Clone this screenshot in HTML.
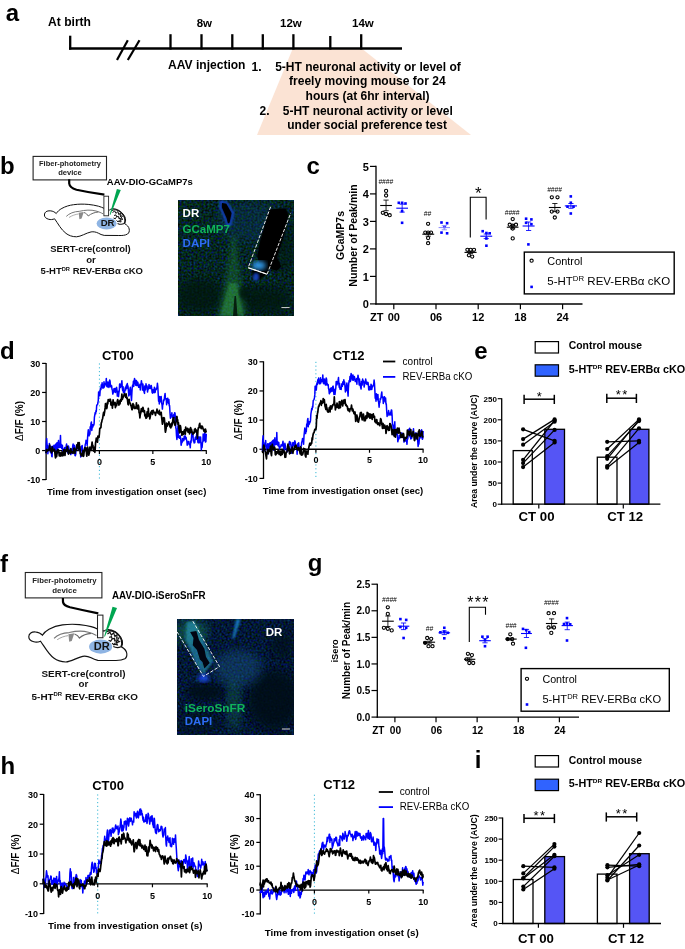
<!DOCTYPE html>
<html><head><meta charset="utf-8"><title>Figure</title>
<style>html,body{margin:0;padding:0;background:#fff}svg{display:block;will-change:transform}text{font-family:"Liberation Sans",sans-serif}</style></head><body>
<svg width="685" height="949" viewBox="0 0 685 949">
<rect width="685" height="949" fill="#fff"/>
<defs>
<filter id="noiseG" x="0" y="0" width="100%" height="100%" color-interpolation-filters="sRGB">
<feTurbulence type="fractalNoise" baseFrequency="0.5" numOctaves="2" seed="3" result="n"/>
<feColorMatrix in="n" type="matrix" values="0 0 0 0 0.02  0 0.45 0 0 -0.08  0 0 1.0 0 -0.36  0 0 0 0 1"/><feGaussianBlur stdDeviation="0.45"/>
</filter>
<filter id="noiseB" x="0" y="0" width="100%" height="100%" color-interpolation-filters="sRGB">
<feTurbulence type="fractalNoise" baseFrequency="0.5" numOctaves="2" seed="8" result="n"/>
<feColorMatrix in="n" type="matrix" values="0 0 0 0 0.01  0 0.4 0 0 -0.105  0 0 0.8 0 -0.19  0 0 0 0 1"/><feGaussianBlur stdDeviation="0.45"/>
</filter>
<filter id="bl1"><feGaussianBlur stdDeviation="1.2"/></filter>
<filter id="bl2"><feGaussianBlur stdDeviation="2.5"/></filter>
<filter id="bl4"><feGaussianBlur stdDeviation="5"/></filter>
<clipPath id="clipB"><rect x="178" y="200" width="116" height="116"/></clipPath>
<clipPath id="clipF"><rect x="177" y="619" width="117" height="116"/></clipPath>
</defs>
<polygon points="293,48 361,48 471,135 257,135" fill="#fbe3d4"/>
<line x1="69" y1="48.5" x2="402" y2="48.5" stroke="#000" stroke-width="2.3" />
<line x1="70.2" y1="35.7" x2="70.2" y2="49.6" stroke="#000" stroke-width="2.3" />
<line x1="170.5" y1="34.2" x2="170.5" y2="49.6" stroke="#000" stroke-width="2.3" />
<line x1="201.5" y1="34.2" x2="201.5" y2="49.6" stroke="#000" stroke-width="2.3" />
<line x1="232.3" y1="34.2" x2="232.3" y2="49.6" stroke="#000" stroke-width="2.3" />
<line x1="262.8" y1="34.2" x2="262.8" y2="49.6" stroke="#000" stroke-width="2.3" />
<line x1="293.4" y1="34.2" x2="293.4" y2="49.6" stroke="#000" stroke-width="2.3" />
<line x1="330.3" y1="36" x2="330.3" y2="49.6" stroke="#000" stroke-width="2.3" />
<line x1="361.2" y1="34.2" x2="361.2" y2="49.6" stroke="#000" stroke-width="2.3" />
<line x1="117" y1="60" x2="127.8" y2="40.2" stroke="#000" stroke-width="2.2" />
<line x1="127.8" y1="60" x2="139.5" y2="40.2" stroke="#000" stroke-width="2.2" />
<text x="48" y="26.3" font-size="12" font-weight="bold" text-anchor="start" fill="#000" textLength="43" lengthAdjust="spacingAndGlyphs" >At birth</text>
<text x="196.7" y="27" font-size="11.5" font-weight="bold" text-anchor="start" fill="#000" >8w</text>
<text x="280" y="27" font-size="11.5" font-weight="bold" text-anchor="start" fill="#000" >12w</text>
<text x="352" y="27" font-size="11.5" font-weight="bold" text-anchor="start" fill="#000" >14w</text>
<text x="168" y="68.6" font-size="12" font-weight="bold" text-anchor="start" fill="#000" textLength="77.5" lengthAdjust="spacingAndGlyphs" >AAV injection</text>
<text x="251.5" y="71" font-size="12" font-weight="bold" text-anchor="start" fill="#000" >1.</text>
<text x="275.2" y="70.8" font-size="12" font-weight="bold" text-anchor="start" fill="#000" textLength="185.6" lengthAdjust="spacingAndGlyphs" >5-HT neuronal activity or level of</text>
<text x="289" y="85.4" font-size="12" font-weight="bold" text-anchor="start" fill="#000" textLength="156.6" lengthAdjust="spacingAndGlyphs" >freely moving mouse for 24</text>
<text x="305.6" y="99.6" font-size="12" font-weight="bold" text-anchor="start" fill="#000" textLength="124" lengthAdjust="spacingAndGlyphs" >hours (at 6hr interval)</text>
<text x="259.5" y="114.6" font-size="12" font-weight="bold" text-anchor="start" fill="#000" >2.</text>
<text x="282.8" y="114.6" font-size="12" font-weight="bold" text-anchor="start" fill="#000" textLength="170" lengthAdjust="spacingAndGlyphs" >5-HT neuronal activity or level</text>
<text x="287.3" y="128.7" font-size="12" font-weight="bold" text-anchor="start" fill="#000" textLength="159.6" lengthAdjust="spacingAndGlyphs" >under social preference test</text>
<rect x="33.1" y="156.4" width="73.4" height="23.5" fill="#fff" stroke="#222" stroke-width="1.1"/>
<text x="70" y="166.3" font-size="7.6" font-weight="bold" text-anchor="middle" fill="#222" textLength="62" lengthAdjust="spacingAndGlyphs" >Fiber-photometry</text>
<text x="70" y="174.8" font-size="7.6" font-weight="bold" text-anchor="middle" fill="#222" >device</text>
<path d="M69.2,179.3 L69.2,183.5 Q69.6,187.6 76.5,189.8 Q90,192.8 104.4,194.6" fill="none" stroke="#000" stroke-width="2.2"/>
<g transform="translate(0,0)">
<path d="M44.4,215 C44.4,211.8 47,210.6 50.2,210.8 C53,211 55,212.2 56.2,213.6 C57.5,211.5 59.5,209.7 61.9,208.4 C65.5,206.4 69.5,205.2 73.6,204.7 C78.5,204 83.5,204 88.2,204.4 C92,204.8 95.5,205.4 98.4,206.2 C100.5,206.8 102.5,207.6 104.2,208.4 L109.5,210 C111,208.6 113.5,208.4 116,209.2 C118.5,210 120.5,211.2 121.8,212.7 C123.8,214.6 125,216.5 125.4,218.6 C125.8,220.5 125.5,222.3 124.7,223.7 C127,225 128.8,226.8 129.2,229 C129.6,231.3 129,233 127.6,234 C125,235.5 122,235.6 118.8,235.5 L104.2,235.4 C102,235 100,234.2 98.4,233.2 C96,232 93.5,231.5 91.1,231.9 C86,233 81,236.6 76.5,236.8 C72,236.8 68.5,235.3 66,233.4 C61,229.6 58,223.5 54.6,218.8 C52.5,219.6 50.5,219.8 48.8,219.3 C46,218.6 44.4,217 44.4,215 Z" fill="#fff" stroke="#111" stroke-width="1"/>
<path d="M66.3,216.4 C69,213.5 74,211.5 79.4,211.3 C85,210 91,209.6 96,211 C99,211.8 101.5,213 103,213.8" fill="none" stroke="#777" stroke-width="1"/>
<path d="M78.7,212.7 L83.8,212 L81.6,218.6 L79.4,219.3 Z" fill="#8a8a8a"/>
<path d="M84,212.5 C86,213.2 87.5,214.5 88.2,216 C91,213.6 95,212.2 98.4,212" fill="none" stroke="#666" stroke-width="1"/>
<path d="M69,217.5 C72,215.5 75.5,214.3 78.5,214" fill="none" stroke="#999" stroke-width="0.8"/>
<ellipse cx="106.6" cy="223.5" rx="10" ry="6.1" fill="#8eb4e3"/>
<path d="M111.5,210.8 C113.5,209.4 116,209.6 118,210.4 C121,211.8 123.5,214.5 124.6,218 C125.2,220.5 124.8,222.5 124.2,223.6 C122,224.6 119.5,224.4 117.6,223.4" fill="none" stroke="#111" stroke-width="1.1"/>
<path d="M112.5,212.5 l2.2,-1.5 l1.2,2.4 l2,-1.8 l0.8,2.6 l2.2,-1 l-0.4,2.6 l2,0.2 l-1.4,2 l1.8,1.2 l-2.4,1 l0.6,1.8 l-2.6,-0.6 M114,215.5 l2,-0.6 l0.6,2 l2,-0.6 l0.2,2.2 l2,0 l-1,2 M113.5,218 l1.8,0.8 l1,-1.6 M116.5,220.5 l1.6,1.4 l1.2,-1.6 M118.5,213.6 l1,1.6 M121,216 l-1.2,1.4" fill="none" stroke="#111" stroke-width="1"/>
<rect x="103.9" y="196.2" width="4.7" height="19.6" fill="#fff" stroke="#222" stroke-width="0.9"/>
<polygon points="116.9,189 120.8,190.1 110.3,215 109.7,214.6" fill="#00a651"/>
<text x="107.6" y="226" font-size="9.6" font-weight="bold" text-anchor="middle" fill="#111" >DR</text>
</g>
<text x="106.8" y="184.6" font-size="9.5" font-weight="bold" text-anchor="start" fill="#000" textLength="86" lengthAdjust="spacingAndGlyphs" >AAV-DIO-GCaMP7s</text>
<text x="90.5" y="251.8" font-size="9.6" font-weight="bold" text-anchor="middle" fill="#111" textLength="80.5" lengthAdjust="spacingAndGlyphs" >SERT-cre(control)</text>
<text x="91" y="262.6" font-size="9.6" font-weight="bold" text-anchor="middle" fill="#111" >or</text>
<text x="40.6" y="274.2" font-size="9.6" font-weight="bold" fill="#111" textLength="102.4" lengthAdjust="spacingAndGlyphs">5-HT<tspan font-size="5.76" dy="-3.17">DR</tspan><tspan dy="3.17"> REV-ERBα cKO</tspan></text>
<g clip-path="url(#clipB)">
<rect x="178" y="200" width="116" height="116" fill="#06231a"/>
<rect x="178" y="200" width="116" height="116" filter="url(#noiseG)"/>
<ellipse cx="200" cy="296" rx="24" ry="18" fill="#03140e" opacity="0.75" filter="url(#bl4)"/>
<ellipse cx="264" cy="300" rx="28" ry="14" fill="#03140e" opacity="0.75" filter="url(#bl4)"/>
<ellipse cx="285" cy="245" rx="10" ry="30" fill="#03140e" opacity="0.5" filter="url(#bl4)"/>
<path d="M231,235 C230,260 224,285 217,316 L248,316 C242,290 238,262 236,235 Z" fill="#2a9a45" opacity="0.3" filter="url(#bl2)"/>
<path d="M229,283 C226,295 223,305 220,316 L244,316 C241,304 239,294 237,283 Z" fill="#40b850" opacity="0.36" filter="url(#bl1)"/>
<path d="M234.5,296 L233,316 L237.5,316 L236,296 Z" fill="#021008" opacity="0.85"/>
<ellipse cx="244" cy="293" rx="5" ry="6" fill="#03140e" opacity="0.7" filter="url(#bl1)"/>
<ellipse cx="252" cy="222" rx="36" ry="20" fill="#0c3c70" opacity="0.3" filter="url(#bl4)"/>
<path d="M220.5,201.5 L226.8,202.5 L233.2,212.9 L230.6,224.3 L227.7,226.3 L225.6,219 L220.2,207.6 Z" fill="#000" stroke="#1a4fe0" stroke-width="1.8" filter="url(#bl1)"/>
<path d="M222,203 L226.3,203.8 L231.5,213 L229.6,222.5 L228,223.5 L226.6,218 L222,207.5 Z" fill="#000"/>
<polygon points="269.7,209.4 285.5,208.5 288.1,214.6 284.6,233 276.7,257.6 281.1,266.3 276.7,270.7 268.9,268.1 266.2,274.2 257.5,280.3 253.1,275.1 252.2,270.7 260.1,266.3 257.5,255.8 260.1,241.8 265.3,224.3" fill="#000" filter="url(#bl1)"/>
<polygon points="269.7,209.4 285.5,208.5 288.1,214.6 284.6,233 276.7,257.6 281.1,266.3 276.7,270.7 268.9,268.1 266.2,274.2 257.5,280.3 253.1,275.1 252.2,270.7 260.1,266.3 257.5,255.8 260.1,241.8 265.3,224.3" fill="#000"/>
<ellipse cx="259" cy="265.5" rx="7" ry="4.5" fill="#35a8ff" opacity="0.9" filter="url(#bl2)"/>
<ellipse cx="256" cy="277" rx="3" ry="4" fill="#1a50e0" opacity="0.8" filter="url(#bl1)"/>
<polyline points="270.6,206.8 248.2,267.7 267.1,274.2 290.8,212.9" fill="none" stroke="#fff" stroke-width="0.9" stroke-dasharray="3.4,1.6"/>
<line x1="248.2" y1="267.7" x2="267.1" y2="274.2" stroke="#fff" stroke-width="1.1" />
<line x1="281.4" y1="307.6" x2="289.6" y2="307.6" stroke="#eee" stroke-width="0.9" />
</g>
<text x="182.6" y="217.3" font-size="11.5" font-weight="bold" text-anchor="start" fill="#fff" >DR</text>
<text x="182.6" y="233" font-size="11.5" font-weight="bold" text-anchor="start" fill="#10b45a" >GCaMP7</text>
<text x="182.6" y="247.3" font-size="11.5" font-weight="bold" text-anchor="start" fill="#2d6df5" >DAPI</text>
<line x1="376" y1="165.8" x2="376" y2="304.5" stroke="#000" stroke-width="1.3" />
<line x1="375.4" y1="304" x2="582.5" y2="304" stroke="#000" stroke-width="1.3" />
<line x1="370" y1="303.9" x2="376" y2="303.9" stroke="#000" stroke-width="1.2" />
<text x="368.8" y="308.29999999999995" font-size="11" font-weight="bold" text-anchor="end" fill="#000" >0</text>
<line x1="370" y1="276.4" x2="376" y2="276.4" stroke="#000" stroke-width="1.2" />
<text x="368.8" y="280.79999999999995" font-size="11" font-weight="bold" text-anchor="end" fill="#000" >1</text>
<line x1="370" y1="248.89999999999998" x2="376" y2="248.89999999999998" stroke="#000" stroke-width="1.2" />
<text x="368.8" y="253.29999999999998" font-size="11" font-weight="bold" text-anchor="end" fill="#000" >2</text>
<line x1="370" y1="221.39999999999998" x2="376" y2="221.39999999999998" stroke="#000" stroke-width="1.2" />
<text x="368.8" y="225.79999999999998" font-size="11" font-weight="bold" text-anchor="end" fill="#000" >3</text>
<line x1="370" y1="193.89999999999998" x2="376" y2="193.89999999999998" stroke="#000" stroke-width="1.2" />
<text x="368.8" y="198.29999999999998" font-size="11" font-weight="bold" text-anchor="end" fill="#000" >4</text>
<line x1="370" y1="166.39999999999998" x2="376" y2="166.39999999999998" stroke="#000" stroke-width="1.2" />
<text x="368.8" y="170.79999999999998" font-size="11" font-weight="bold" text-anchor="end" fill="#000" >5</text>
<line x1="393.8" y1="304" x2="393.8" y2="309.3" stroke="#000" stroke-width="1.2" />
<text x="393.8" y="320.9" font-size="11" font-weight="bold" text-anchor="middle" fill="#000" >00</text>
<line x1="436.0" y1="304" x2="436.0" y2="309.3" stroke="#000" stroke-width="1.2" />
<text x="436.0" y="320.9" font-size="11" font-weight="bold" text-anchor="middle" fill="#000" >06</text>
<line x1="478.20000000000005" y1="304" x2="478.20000000000005" y2="309.3" stroke="#000" stroke-width="1.2" />
<text x="478.20000000000005" y="320.9" font-size="11" font-weight="bold" text-anchor="middle" fill="#000" >12</text>
<line x1="520.4" y1="304" x2="520.4" y2="309.3" stroke="#000" stroke-width="1.2" />
<text x="520.4" y="320.9" font-size="11" font-weight="bold" text-anchor="middle" fill="#000" >18</text>
<line x1="562.6" y1="304" x2="562.6" y2="309.3" stroke="#000" stroke-width="1.2" />
<text x="562.6" y="320.9" font-size="11" font-weight="bold" text-anchor="middle" fill="#000" >24</text>
<text x="370" y="320.9" font-size="11" font-weight="bold" text-anchor="start" fill="#000" >ZT</text>
<text transform="translate(344,235.5) rotate(-90)" font-size="10.5" font-weight="bold" text-anchor="middle">GCaMP7s</text>
<text transform="translate(356.6,235.5) rotate(-90)" font-size="10.5" font-weight="bold" text-anchor="middle" textLength="102.5" lengthAdjust="spacingAndGlyphs">Number of Peak/min</text>
<circle cx="386.1" cy="190.9" r="1.6" fill="none" stroke="#000" stroke-width="1.1"/>
<circle cx="386.1" cy="195.5" r="1.6" fill="none" stroke="#000" stroke-width="1.1"/>
<circle cx="382.8" cy="212.8" r="1.6" fill="none" stroke="#000" stroke-width="1.1"/>
<circle cx="386.1" cy="214" r="1.6" fill="none" stroke="#000" stroke-width="1.1"/>
<circle cx="389.7" cy="215.2" r="1.6" fill="none" stroke="#000" stroke-width="1.1"/>
<line x1="380.2" y1="205.5" x2="391.9" y2="205.5" stroke="#000" stroke-width="1.1" />
<line x1="386.04999999999995" y1="200.1" x2="386.04999999999995" y2="210.7" stroke="#000" stroke-width="0.85" />
<line x1="383.44999999999993" y1="200.1" x2="388.65" y2="200.1" stroke="#000" stroke-width="0.85" />
<line x1="383.44999999999993" y1="210.7" x2="388.65" y2="210.7" stroke="#000" stroke-width="0.85" />
<text x="385.8" y="184" font-size="6.6" font-weight="normal" text-anchor="middle" fill="#000" font-style="italic">####</text>
<rect x="397.5" y="201.5" width="2.6" height="2.6" fill="#0000ff"/>
<rect x="400.8" y="201.5" width="2.6" height="2.6" fill="#0000ff"/>
<rect x="404.2" y="202.2" width="2.6" height="2.6" fill="#0000ff"/>
<rect x="400.8" y="209.79999999999998" width="2.6" height="2.6" fill="#0000ff"/>
<rect x="400.8" y="221.5" width="2.6" height="2.6" fill="#0000ff"/>
<line x1="396.3" y1="208.2" x2="408" y2="208.2" stroke="#0000ff" stroke-width="1.1" />
<line x1="402.15" y1="204.2" x2="402.15" y2="212.1" stroke="#0000ff" stroke-width="0.85" />
<line x1="399.54999999999995" y1="204.2" x2="404.75" y2="204.2" stroke="#0000ff" stroke-width="0.85" />
<line x1="399.54999999999995" y1="212.1" x2="404.75" y2="212.1" stroke="#0000ff" stroke-width="0.85" />
<circle cx="428.1" cy="223.8" r="1.6" fill="none" stroke="#000" stroke-width="1.1"/>
<circle cx="425.3" cy="232.6" r="1.6" fill="none" stroke="#000" stroke-width="1.1"/>
<circle cx="428.1" cy="232.6" r="1.6" fill="none" stroke="#000" stroke-width="1.1"/>
<circle cx="431" cy="232.6" r="1.6" fill="none" stroke="#000" stroke-width="1.1"/>
<circle cx="428.1" cy="238.1" r="1.6" fill="none" stroke="#000" stroke-width="1.1"/>
<circle cx="428.1" cy="243.2" r="1.6" fill="none" stroke="#000" stroke-width="1.1"/>
<line x1="422.3" y1="234.2" x2="434.2" y2="234.2" stroke="#000" stroke-width="1.1" />
<line x1="428.25" y1="232.3" x2="428.25" y2="236.2" stroke="#000" stroke-width="0.85" />
<line x1="425.65" y1="232.3" x2="430.85" y2="232.3" stroke="#000" stroke-width="0.85" />
<line x1="425.65" y1="236.2" x2="430.85" y2="236.2" stroke="#000" stroke-width="0.85" />
<text x="427.5" y="216.2" font-size="6.6" font-weight="normal" text-anchor="middle" fill="#000" font-style="italic">##</text>
<rect x="440.2" y="221.2" width="2.6" height="2.6" fill="#0000ff"/>
<rect x="445.8" y="221.89999999999998" width="2.6" height="2.6" fill="#0000ff"/>
<rect x="443.2" y="225.6" width="2.6" height="2.6" fill="#0000ff"/>
<rect x="440.2" y="231.29999999999998" width="2.6" height="2.6" fill="#0000ff"/>
<rect x="445.8" y="232.0" width="2.6" height="2.6" fill="#0000ff"/>
<line x1="438.6" y1="227.6" x2="450" y2="227.6" stroke="#7a7aff" stroke-width="0.9" />
<line x1="444.3" y1="225.7" x2="444.3" y2="229.8" stroke="#7a7aff" stroke-width="0.85" />
<line x1="441.7" y1="225.7" x2="446.90000000000003" y2="225.7" stroke="#7a7aff" stroke-width="0.85" />
<line x1="441.7" y1="229.8" x2="446.90000000000003" y2="229.8" stroke="#7a7aff" stroke-width="0.85" />
<circle cx="467.4" cy="249.8" r="1.6" fill="none" stroke="#000" stroke-width="1.1"/>
<circle cx="470.6" cy="249.8" r="1.6" fill="none" stroke="#000" stroke-width="1.1"/>
<circle cx="474" cy="249.8" r="1.6" fill="none" stroke="#000" stroke-width="1.1"/>
<circle cx="468.9" cy="255.3" r="1.6" fill="none" stroke="#000" stroke-width="1.1"/>
<circle cx="472.2" cy="256.6" r="1.6" fill="none" stroke="#000" stroke-width="1.1"/>
<line x1="464.5" y1="252.4" x2="476.6" y2="252.4" stroke="#000" stroke-width="1.1" />
<line x1="470.55" y1="251.4" x2="470.55" y2="253.4" stroke="#000" stroke-width="0.85" />
<line x1="467.95" y1="251.4" x2="473.15000000000003" y2="251.4" stroke="#000" stroke-width="0.85" />
<line x1="467.95" y1="253.4" x2="473.15000000000003" y2="253.4" stroke="#000" stroke-width="0.85" />
<rect x="481.4" y="229.89999999999998" width="2.6" height="2.6" fill="#0000ff"/>
<rect x="485.09999999999997" y="231.7" width="2.6" height="2.6" fill="#0000ff"/>
<rect x="488.4" y="232.0" width="2.6" height="2.6" fill="#0000ff"/>
<rect x="485.09999999999997" y="237.2" width="2.6" height="2.6" fill="#0000ff"/>
<rect x="485.09999999999997" y="244.39999999999998" width="2.6" height="2.6" fill="#0000ff"/>
<line x1="480.3" y1="236.2" x2="492.2" y2="236.2" stroke="#0000ff" stroke-width="1.1" />
<line x1="486.25" y1="234" x2="486.25" y2="238.6" stroke="#0000ff" stroke-width="0.85" />
<line x1="483.65" y1="234" x2="488.85" y2="234" stroke="#0000ff" stroke-width="0.85" />
<line x1="483.65" y1="238.6" x2="488.85" y2="238.6" stroke="#0000ff" stroke-width="0.85" />
<path d="M470.3,237.4 V197.2 H486.1 V219.6" fill="none" stroke="#000" stroke-width="1.1"/>
<text x="478.4" y="198.5" font-size="17" font-weight="normal" text-anchor="middle" fill="#000" >*</text>
<circle cx="512.7" cy="219.1" r="1.6" fill="none" stroke="#000" stroke-width="1.1"/>
<circle cx="509.7" cy="224.7" r="1.6" fill="none" stroke="#000" stroke-width="1.1"/>
<circle cx="512.7" cy="225.7" r="1.6" fill="none" stroke="#000" stroke-width="1.1"/>
<circle cx="516" cy="224.7" r="1.6" fill="none" stroke="#000" stroke-width="1.1"/>
<circle cx="512.7" cy="228.6" r="1.6" fill="none" stroke="#000" stroke-width="1.1"/>
<circle cx="512.7" cy="238.4" r="1.6" fill="none" stroke="#000" stroke-width="1.1"/>
<line x1="506.8" y1="227.2" x2="518.5" y2="227.2" stroke="#000" stroke-width="1.1" />
<line x1="512.65" y1="225.6" x2="512.65" y2="228.8" stroke="#000" stroke-width="0.85" />
<line x1="510.04999999999995" y1="225.6" x2="515.25" y2="225.6" stroke="#000" stroke-width="0.85" />
<line x1="510.04999999999995" y1="228.8" x2="515.25" y2="228.8" stroke="#000" stroke-width="0.85" />
<text x="512.1" y="214.8" font-size="6.6" font-weight="normal" text-anchor="middle" fill="#000" font-style="italic">####</text>
<rect x="524.8000000000001" y="217.39999999999998" width="2.6" height="2.6" fill="#0000ff"/>
<rect x="530.1" y="218.1" width="2.6" height="2.6" fill="#0000ff"/>
<rect x="524.8000000000001" y="221.5" width="2.6" height="2.6" fill="#0000ff"/>
<rect x="530.1" y="222.89999999999998" width="2.6" height="2.6" fill="#0000ff"/>
<rect x="527.1" y="243.1" width="2.6" height="2.6" fill="#0000ff"/>
<line x1="522.6" y1="226" x2="534.6" y2="226" stroke="#0000ff" stroke-width="1.1" />
<line x1="528.6" y1="222" x2="528.6" y2="230.5" stroke="#0000ff" stroke-width="0.85" />
<line x1="526.0" y1="222" x2="531.2" y2="222" stroke="#0000ff" stroke-width="0.85" />
<line x1="526.0" y1="230.5" x2="531.2" y2="230.5" stroke="#0000ff" stroke-width="0.85" />
<circle cx="551.8" cy="197.3" r="1.6" fill="none" stroke="#000" stroke-width="1.1"/>
<circle cx="557.5" cy="197.3" r="1.6" fill="none" stroke="#000" stroke-width="1.1"/>
<circle cx="551.8" cy="211.6" r="1.6" fill="none" stroke="#000" stroke-width="1.1"/>
<circle cx="557.5" cy="211.6" r="1.6" fill="none" stroke="#000" stroke-width="1.1"/>
<circle cx="554.8" cy="217.5" r="1.6" fill="none" stroke="#000" stroke-width="1.1"/>
<line x1="548.9" y1="207.5" x2="560.8" y2="207.5" stroke="#000" stroke-width="1.1" />
<line x1="554.8499999999999" y1="203.5" x2="554.8499999999999" y2="211.6" stroke="#000" stroke-width="0.85" />
<line x1="552.2499999999999" y1="203.5" x2="557.4499999999999" y2="203.5" stroke="#000" stroke-width="0.85" />
<line x1="552.2499999999999" y1="211.6" x2="557.4499999999999" y2="211.6" stroke="#000" stroke-width="0.85" />
<text x="554.5" y="191.9" font-size="6.6" font-weight="normal" text-anchor="middle" fill="#000" font-style="italic">####</text>
<rect x="569.5" y="195.1" width="2.6" height="2.6" fill="#0000ff"/>
<rect x="569.5" y="201.39999999999998" width="2.6" height="2.6" fill="#0000ff"/>
<rect x="566.2" y="205.39999999999998" width="2.6" height="2.6" fill="#0000ff"/>
<rect x="572.2" y="205.39999999999998" width="2.6" height="2.6" fill="#0000ff"/>
<rect x="569.5" y="212.2" width="2.6" height="2.6" fill="#0000ff"/>
<line x1="564.8" y1="205.9" x2="577" y2="205.9" stroke="#0000ff" stroke-width="1.1" />
<line x1="570.9" y1="203.5" x2="570.9" y2="208.3" stroke="#0000ff" stroke-width="0.85" />
<line x1="568.3" y1="203.5" x2="573.5" y2="203.5" stroke="#0000ff" stroke-width="0.85" />
<line x1="568.3" y1="208.3" x2="573.5" y2="208.3" stroke="#0000ff" stroke-width="0.85" />
<rect x="524.3" y="252.1" width="149.9" height="41.8" fill="#fff" stroke="#000" stroke-width="1.4"/>
<circle cx="531.6" cy="260.7" r="1.6" fill="none" stroke="#000" stroke-width="1.1"/>
<rect x="530.3000000000001" y="285.59999999999997" width="2.6" height="2.6" fill="#0000ff"/>
<text x="547.3" y="264.8" font-size="11" font-weight="normal" text-anchor="start" fill="#000" textLength="35.2" lengthAdjust="spacingAndGlyphs" >Control</text>
<text x="547.3" y="285" font-size="11" font-weight="normal" fill="#000" textLength="122.8" lengthAdjust="spacingAndGlyphs">5-HT<tspan font-size="7.48" dy="-3.96">DR</tspan><tspan dy="3.96"> REV-ERBα cKO</tspan></text>
<line x1="99.4" y1="363.4" x2="99.4" y2="479.6" stroke="#38b8d6" stroke-width="1" stroke-dasharray="1.2,2.6"/>
<line x1="46.1" y1="362.9" x2="46.1" y2="480.1" stroke="#000" stroke-width="1.3" />
<line x1="46.1" y1="450.55" x2="206.70000000000002" y2="450.55" stroke="#000" stroke-width="1.3" />
<line x1="42.1" y1="479.6" x2="46.1" y2="479.6" stroke="#000" stroke-width="1.2" />
<text x="40.300000000000004" y="482.90000000000003" font-size="9" font-weight="bold" text-anchor="end" fill="#000" >-10</text>
<line x1="42.1" y1="450.55" x2="46.1" y2="450.55" stroke="#000" stroke-width="1.2" />
<text x="40.300000000000004" y="453.85" font-size="9" font-weight="bold" text-anchor="end" fill="#000" >0</text>
<line x1="42.1" y1="421.5" x2="46.1" y2="421.5" stroke="#000" stroke-width="1.2" />
<text x="40.300000000000004" y="424.8" font-size="9" font-weight="bold" text-anchor="end" fill="#000" >10</text>
<line x1="42.1" y1="392.45" x2="46.1" y2="392.45" stroke="#000" stroke-width="1.2" />
<text x="40.300000000000004" y="395.75" font-size="9" font-weight="bold" text-anchor="end" fill="#000" >20</text>
<line x1="42.1" y1="363.4" x2="46.1" y2="363.4" stroke="#000" stroke-width="1.2" />
<text x="40.300000000000004" y="366.7" font-size="9" font-weight="bold" text-anchor="end" fill="#000" >30</text>
<line x1="99.4" y1="450.55" x2="99.4" y2="454.05" stroke="#000" stroke-width="1.2" />
<text x="99.4" y="465" font-size="9" font-weight="bold" text-anchor="middle" fill="#000" >0</text>
<line x1="152.85000000000002" y1="450.55" x2="152.85000000000002" y2="454.05" stroke="#000" stroke-width="1.2" />
<text x="152.85000000000002" y="465" font-size="9" font-weight="bold" text-anchor="middle" fill="#000" >5</text>
<line x1="206.3" y1="450.55" x2="206.3" y2="454.05" stroke="#000" stroke-width="1.2" />
<text x="206.3" y="465" font-size="9" font-weight="bold" text-anchor="middle" fill="#000" >10</text>
<text x="117.8" y="360.4" font-size="13" font-weight="bold" text-anchor="middle" fill="#000" >CT00</text>
<text x="46.9" y="494.7" font-size="9.5" font-weight="bold" text-anchor="start" fill="#000" textLength="159.4" lengthAdjust="spacingAndGlyphs" >Time from investigation onset (sec)</text>
<text transform="translate(23,421) rotate(-90)" font-size="10" text-anchor="middle"><tspan font-weight="normal">Δ</tspan><tspan font-weight="bold">F/F (%)</tspan></text>
<polyline points="46.0,453.6 46.3,443.2 46.7,438.6 47.1,445.3 47.5,445.3 47.9,453.7 48.2,447.0 48.6,448.0 49.0,448.5 49.4,443.4 49.8,450.0 50.1,447.9 50.5,452.8 50.9,452.4 51.3,446.6 51.7,456.2 52.1,456.6 52.4,448.4 52.8,446.3 53.2,449.8 53.6,446.9 54.0,445.3 54.3,446.8 54.7,452.1 55.1,448.8 55.5,444.4 55.9,449.9 56.3,443.5 56.6,444.1 57.0,442.7 57.4,453.1 57.8,445.2 58.2,442.8 58.5,440.6 58.9,447.5 59.3,446.9 59.7,447.2 60.1,444.6 60.5,435.4 60.8,447.3 61.2,444.2 61.6,448.4 62.0,448.7 62.4,445.3 62.7,449.0 63.1,451.7 63.5,449.5 63.9,449.8 64.3,449.7 64.7,447.6 65.0,448.0 65.4,447.9 65.8,448.6 66.2,446.0 66.6,444.0 66.9,448.3 67.3,451.3 67.7,452.9 68.1,449.6 68.5,446.1 68.9,448.1 69.2,450.4 69.6,451.7 70.0,452.9 70.4,452.8 70.8,454.6 71.1,451.5 71.5,449.5 71.9,448.8 72.3,453.5 72.7,445.8 73.1,444.1 73.4,447.4 73.8,446.1 74.2,445.2 74.6,447.5 75.0,455.5 75.3,455.8 75.7,454.6 76.1,449.0 76.5,445.2 76.9,445.2 77.3,448.6 77.6,446.4 78.0,449.1 78.4,443.5 78.8,444.7 79.2,447.4 79.5,450.1 79.9,449.5 80.3,449.6 80.7,456.9 81.1,450.1 81.5,446.2 81.8,448.9 82.2,445.6 82.6,450.2 83.0,451.1 83.4,451.9 83.7,451.8 84.1,452.0 84.5,448.3 84.9,447.5 85.3,444.0 85.7,443.3 86.0,440.2 86.4,441.7 86.8,442.0 87.2,445.5 87.6,437.3 87.9,433.5 88.3,429.8 88.7,434.4 89.1,435.8 89.5,432.9 89.9,434.1 90.2,426.8 90.6,429.0 91.0,423.4 91.4,421.9 91.8,430.4 92.1,427.4 92.5,424.8 92.9,426.9 93.3,424.7 93.7,425.2 94.1,423.7 94.4,417.3 94.8,415.0 95.2,412.5 95.6,413.8 96.0,410.5 96.3,411.5 96.7,405.3 97.1,404.9 97.5,404.6 97.9,403.0 98.3,400.2 98.6,391.9 99.0,392.0 99.4,392.2 99.8,395.8 100.2,390.1 100.5,388.2 100.9,389.6 101.3,384.8 101.7,387.5 102.1,382.8 102.5,386.0 102.8,388.1 103.2,386.7 103.6,387.9 104.0,381.8 104.4,387.0 104.7,384.3 105.1,383.5 105.5,384.8 105.9,384.6 106.3,378.4 106.7,386.3 107.0,385.9 107.4,386.9 107.8,382.0 108.2,385.4 108.6,385.7 108.9,387.4 109.3,381.7 109.7,379.9 110.1,381.2 110.5,386.7 110.9,385.2 111.2,385.7 111.6,385.7 112.0,389.3 112.4,390.3 112.8,394.1 113.1,390.8 113.5,392.7 113.9,388.7 114.3,391.5 114.7,388.4 115.1,389.9 115.4,392.5 115.8,391.4 116.2,387.9 116.6,387.4 117.0,390.1 117.3,396.1 117.7,395.0 118.1,391.5 118.5,396.6 118.9,392.8 119.3,390.5 119.6,384.0 120.0,384.2 120.4,387.6 120.8,386.5 121.2,385.0 121.5,383.5 121.9,380.7 122.3,387.9 122.7,390.7 123.1,386.8 123.5,392.6 123.8,391.3 124.2,392.0 124.6,392.9 125.0,389.0 125.4,387.3 125.7,390.0 126.1,386.6 126.5,385.1 126.9,388.2 127.3,383.6 127.7,386.8 128.0,386.0 128.4,390.6 128.8,396.0 129.2,393.6 129.6,394.8 129.9,389.3 130.3,387.3 130.7,391.1 131.1,396.0 131.5,400.5 131.9,392.7 132.2,387.6 132.6,385.1 133.0,386.6 133.4,381.2 133.8,386.2 134.1,382.0 134.5,378.6 134.9,379.6 135.3,382.2 135.7,385.2 136.1,382.9 136.4,380.4 136.8,385.6 137.2,383.9 137.6,381.9 138.0,383.0 138.3,385.7 138.7,387.3 139.1,387.1 139.5,386.9 139.9,384.3 140.3,390.0 140.6,384.5 141.0,384.4 141.4,380.7 141.8,383.3 142.2,385.2 142.5,390.1 142.9,384.0 143.3,387.6 143.7,389.9 144.1,392.0 144.5,393.4 144.8,386.1 145.2,390.1 145.6,389.4 146.0,383.8 146.4,386.0 146.7,387.2 147.1,386.0 147.5,392.0 147.9,389.9 148.3,388.9 148.7,388.1 149.0,384.4 149.4,386.7 149.8,388.3 150.2,388.6 150.6,387.8 150.9,385.5 151.3,385.5 151.7,388.1 152.1,392.5 152.5,393.2 152.9,390.2 153.2,389.6 153.6,390.1 154.0,392.7 154.4,387.2 154.8,388.3 155.1,392.5 155.5,390.0 155.9,390.0 156.3,389.3 156.7,388.0 157.0,387.6 157.4,383.2 157.8,386.6 158.2,394.0 158.6,401.2 159.0,399.4 159.3,403.9 159.7,396.4 160.1,400.5 160.5,399.2 160.9,402.0 161.2,396.5 161.6,402.8 162.0,404.5 162.4,409.1 162.8,404.0 163.2,404.2 163.5,400.1 163.9,400.7 164.3,399.1 164.7,395.6 165.1,393.4 165.4,398.4 165.8,399.2 166.2,398.7 166.6,404.8 167.0,400.6 167.4,398.8 167.7,398.2 168.1,401.8 168.5,403.4 168.9,399.6 169.3,405.9 169.6,405.5 170.0,413.0 170.4,418.2 170.8,415.1 171.2,415.4 171.6,415.4 171.9,412.7 172.3,417.6 172.7,416.4 173.1,416.6 173.5,416.3 173.8,414.6 174.2,417.8 174.6,412.7 175.0,413.0 175.4,418.1 175.8,428.0 176.1,428.5 176.5,435.7 176.9,439.4 177.3,433.3 177.7,429.9 178.0,425.9 178.4,437.6 178.8,436.5 179.2,437.1 179.6,438.3 180.0,435.6 180.3,437.1 180.7,438.3 181.1,445.2 181.5,443.6 181.9,441.1 182.2,442.2 182.6,438.4 183.0,440.9 183.4,439.2 183.8,440.6 184.2,436.3 184.5,439.1 184.9,435.9 185.3,436.0 185.7,438.9 186.1,437.4 186.4,439.4 186.8,440.5 187.2,445.2 187.6,442.1 188.0,443.0 188.4,441.4 188.7,441.5 189.1,444.6 189.5,444.6 189.9,444.6 190.3,447.8 190.6,440.9 191.0,442.6 191.4,438.6 191.8,433.2 192.2,436.8 192.6,433.8 192.9,432.2 193.3,440.9 193.7,440.0 194.1,443.0 194.5,442.1 194.8,442.6 195.2,437.8 195.6,437.0 196.0,439.3 196.4,436.8 196.8,432.8 197.1,439.2 197.5,438.8 197.9,442.3 198.3,442.8 198.7,437.3 199.0,436.6 199.4,442.7 199.8,438.9 200.2,438.8 200.6,437.1 201.0,444.4 201.3,449.8 201.7,446.7 202.1,447.4 202.5,442.4 202.9,441.5 203.2,433.9 203.6,440.7 204.0,439.2 204.4,437.0 204.8,432.8 205.2,440.8 205.5,442.1 205.9,441.5 206.3,433.8" fill="none" stroke="#0000ff" stroke-width="1.5" stroke-linejoin="round"/>
<polyline points="46.0,453.1 46.3,450.3 46.7,449.5 47.1,451.2 47.5,450.8 47.9,450.2 48.2,450.2 48.6,450.2 49.0,448.8 49.4,447.2 49.8,445.0 50.1,447.9 50.5,451.0 50.9,449.2 51.3,450.7 51.7,452.8 52.1,447.7 52.4,447.0 52.8,449.7 53.2,451.0 53.6,450.0 54.0,450.0 54.3,449.3 54.7,450.4 55.1,455.3 55.5,458.0 55.9,452.5 56.3,451.3 56.6,456.7 57.0,453.4 57.4,451.7 57.8,449.7 58.2,450.3 58.5,449.9 58.9,452.6 59.3,456.0 59.7,454.5 60.1,452.8 60.5,453.0 60.8,456.2 61.2,455.2 61.6,455.3 62.0,451.8 62.4,454.7 62.7,455.8 63.1,455.5 63.5,453.4 63.9,449.8 64.3,449.5 64.7,454.0 65.0,455.5 65.4,449.9 65.8,450.3 66.2,451.5 66.6,450.5 66.9,449.6 67.3,446.4 67.7,448.4 68.1,451.7 68.5,454.1 68.9,450.7 69.2,451.2 69.6,451.1 70.0,450.2 70.4,453.4 70.8,448.7 71.1,450.8 71.5,451.8 71.9,452.5 72.3,451.9 72.7,452.8 73.1,453.3 73.4,451.1 73.8,448.3 74.2,448.2 74.6,452.8 75.0,453.4 75.3,449.4 75.7,450.6 76.1,450.2 76.5,449.9 76.9,444.9 77.3,446.4 77.6,446.7 78.0,442.6 78.4,448.3 78.8,449.1 79.2,442.6 79.5,445.7 79.9,446.8 80.3,453.6 80.7,453.2 81.1,455.5 81.5,455.9 81.8,456.0 82.2,453.9 82.6,453.6 83.0,450.3 83.4,456.4 83.7,455.9 84.1,452.1 84.5,450.8 84.9,447.6 85.3,450.4 85.7,448.2 86.0,448.2 86.4,452.5 86.8,456.1 87.2,449.0 87.6,447.0 87.9,448.2 88.3,451.1 88.7,455.2 89.1,453.9 89.5,452.0 89.9,447.2 90.2,449.3 90.6,449.9 91.0,450.1 91.4,447.4 91.8,444.5 92.1,442.2 92.5,445.4 92.9,445.3 93.3,449.5 93.7,451.1 94.1,451.1 94.4,447.3 94.8,452.3 95.2,449.1 95.6,442.3 96.0,440.3 96.3,438.0 96.7,441.2 97.1,440.4 97.5,442.2 97.9,436.1 98.3,437.0 98.6,436.8 99.0,437.5 99.4,434.0 99.8,428.3 100.2,428.2 100.5,427.7 100.9,427.6 101.3,422.9 101.7,422.1 102.1,419.9 102.5,419.0 102.8,417.5 103.2,414.6 103.6,412.3 104.0,415.5 104.4,413.0 104.7,411.3 105.1,407.9 105.5,403.5 105.9,405.2 106.3,406.4 106.7,408.6 107.0,407.6 107.4,402.4 107.8,403.8 108.2,399.6 108.6,400.1 108.9,400.8 109.3,400.1 109.7,401.1 110.1,399.2 110.5,399.7 110.9,404.8 111.2,405.2 111.6,402.4 112.0,403.0 112.4,408.2 112.8,403.4 113.1,399.9 113.5,404.7 113.9,404.6 114.3,402.7 114.7,402.7 115.1,402.4 115.4,407.7 115.8,403.8 116.2,404.8 116.6,405.7 117.0,403.5 117.3,400.9 117.7,399.6 118.1,402.6 118.5,401.4 118.9,405.1 119.3,401.2 119.6,403.0 120.0,403.8 120.4,400.2 120.8,399.3 121.2,401.1 121.5,398.5 121.9,394.0 122.3,399.4 122.7,398.2 123.1,397.4 123.5,396.5 123.8,396.1 124.2,394.0 124.6,393.8 125.0,395.4 125.4,394.3 125.7,397.4 126.1,393.8 126.5,396.3 126.9,398.5 127.3,397.9 127.7,401.6 128.0,404.2 128.4,404.8 128.8,400.0 129.2,399.4 129.6,402.5 129.9,403.0 130.3,403.2 130.7,405.2 131.1,405.8 131.5,407.6 131.9,409.7 132.2,409.6 132.6,404.6 133.0,403.6 133.4,405.2 133.8,404.8 134.1,408.3 134.5,406.7 134.9,407.2 135.3,408.4 135.7,407.1 136.1,407.8 136.4,402.8 136.8,407.7 137.2,408.7 137.6,408.1 138.0,408.9 138.3,405.1 138.7,406.8 139.1,412.7 139.5,413.3 139.9,417.9 140.3,414.4 140.6,413.6 141.0,410.7 141.4,408.5 141.8,411.7 142.2,411.1 142.5,411.1 142.9,407.3 143.3,408.8 143.7,410.8 144.1,412.2 144.5,410.8 144.8,415.5 145.2,416.2 145.6,416.8 146.0,418.3 146.4,414.2 146.7,417.8 147.1,411.9 147.5,415.5 147.9,416.3 148.3,408.4 148.7,413.6 149.0,414.4 149.4,413.9 149.8,418.9 150.2,417.0 150.6,414.6 150.9,412.0 151.3,412.6 151.7,410.9 152.1,410.6 152.5,414.4 152.9,411.1 153.2,410.4 153.6,411.6 154.0,412.7 154.4,412.6 154.8,412.3 155.1,413.3 155.5,415.4 155.9,412.4 156.3,412.4 156.7,411.4 157.0,409.1 157.4,413.0 157.8,411.8 158.2,412.6 158.6,412.1 159.0,414.0 159.3,410.3 159.7,414.6 160.1,414.6 160.5,413.4 160.9,412.5 161.2,412.3 161.6,417.1 162.0,420.1 162.4,424.2 162.8,423.0 163.2,417.8 163.5,420.0 163.9,417.7 164.3,417.9 164.7,422.3 165.1,429.3 165.4,432.2 165.8,430.6 166.2,427.9 166.6,423.1 167.0,425.0 167.4,426.0 167.7,423.9 168.1,423.6 168.5,424.3 168.9,421.8 169.3,424.0 169.6,424.5 170.0,426.9 170.4,424.1 170.8,427.8 171.2,424.5 171.6,426.6 171.9,422.8 172.3,425.0 172.7,421.2 173.1,418.1 173.5,422.3 173.8,417.5 174.2,422.4 174.6,423.4 175.0,425.4 175.4,424.4 175.8,422.7 176.1,422.0 176.5,417.3 176.9,416.5 177.3,419.0 177.7,420.1 178.0,424.6 178.4,422.6 178.8,427.5 179.2,431.0 179.6,432.8 180.0,425.6 180.3,425.5 180.7,427.2 181.1,432.1 181.5,431.4 181.9,435.4 182.2,432.0 182.6,431.9 183.0,431.8 183.4,434.5 183.8,431.0 184.2,431.4 184.5,429.9 184.9,432.4 185.3,434.2 185.7,427.0 186.1,429.6 186.4,430.7 186.8,430.6 187.2,429.9 187.6,428.3 188.0,432.2 188.4,430.7 188.7,429.4 189.1,429.3 189.5,433.9 189.9,430.7 190.3,428.5 190.6,427.6 191.0,432.4 191.4,429.1 191.8,430.8 192.2,432.5 192.6,432.7 192.9,434.3 193.3,432.7 193.7,432.5 194.1,433.0 194.5,429.4 194.8,430.9 195.2,428.6 195.6,431.3 196.0,432.0 196.4,430.2 196.8,432.1 197.1,433.8 197.5,438.3 197.9,430.8 198.3,427.8 198.7,427.9 199.0,426.7 199.4,424.3 199.8,423.3 200.2,427.6 200.6,426.1 201.0,426.7 201.3,428.6 201.7,426.0 202.1,426.1 202.5,426.7 202.9,427.9 203.2,429.2 203.6,429.9 204.0,431.3 204.4,431.2 204.8,429.4 205.2,432.5 205.5,429.2 205.9,430.9 206.3,432.5" fill="none" stroke="#000" stroke-width="1.7" stroke-linejoin="round"/>
<line x1="315.9" y1="361.8" x2="315.9" y2="478.4" stroke="#38b8d6" stroke-width="1" stroke-dasharray="1.2,2.6"/>
<line x1="263.5" y1="361.3" x2="263.5" y2="478.9" stroke="#000" stroke-width="1.3" />
<line x1="263.5" y1="449.25" x2="423.5" y2="449.25" stroke="#000" stroke-width="1.3" />
<line x1="259.5" y1="478.4" x2="263.5" y2="478.4" stroke="#000" stroke-width="1.2" />
<text x="257.7" y="481.7" font-size="9" font-weight="bold" text-anchor="end" fill="#000" >-10</text>
<line x1="259.5" y1="449.25" x2="263.5" y2="449.25" stroke="#000" stroke-width="1.2" />
<text x="257.7" y="452.55" font-size="9" font-weight="bold" text-anchor="end" fill="#000" >0</text>
<line x1="259.5" y1="420.1" x2="263.5" y2="420.1" stroke="#000" stroke-width="1.2" />
<text x="257.7" y="423.40000000000003" font-size="9" font-weight="bold" text-anchor="end" fill="#000" >10</text>
<line x1="259.5" y1="390.95" x2="263.5" y2="390.95" stroke="#000" stroke-width="1.2" />
<text x="257.7" y="394.25" font-size="9" font-weight="bold" text-anchor="end" fill="#000" >20</text>
<line x1="259.5" y1="361.8" x2="263.5" y2="361.8" stroke="#000" stroke-width="1.2" />
<text x="257.7" y="365.1" font-size="9" font-weight="bold" text-anchor="end" fill="#000" >30</text>
<line x1="315.9" y1="449.25" x2="315.9" y2="452.75" stroke="#000" stroke-width="1.2" />
<text x="315.9" y="463.2" font-size="9" font-weight="bold" text-anchor="middle" fill="#000" >0</text>
<line x1="369.5" y1="449.25" x2="369.5" y2="452.75" stroke="#000" stroke-width="1.2" />
<text x="369.5" y="463.2" font-size="9" font-weight="bold" text-anchor="middle" fill="#000" >5</text>
<line x1="423.1" y1="449.25" x2="423.1" y2="452.75" stroke="#000" stroke-width="1.2" />
<text x="423.1" y="463.2" font-size="9" font-weight="bold" text-anchor="middle" fill="#000" >10</text>
<text x="348.6" y="359.9" font-size="13" font-weight="bold" text-anchor="middle" fill="#000" >CT12</text>
<text x="262.8" y="493.5" font-size="9.5" font-weight="bold" text-anchor="start" fill="#000" textLength="160.5" lengthAdjust="spacingAndGlyphs" >Time from investigation onset (sec)</text>
<text transform="translate(242,420) rotate(-90)" font-size="10" text-anchor="middle"><tspan font-weight="normal">Δ</tspan><tspan font-weight="bold">F/F (%)</tspan></text>
<polyline points="262.3,450.9 262.7,440.4 263.1,435.8 263.4,442.5 263.8,442.6 264.2,450.9 264.6,444.2 265.0,445.2 265.4,445.7 265.7,440.6 266.1,447.2 266.5,445.1 266.9,450.0 267.3,449.6 267.7,443.8 268.0,453.5 268.4,453.8 268.8,445.6 269.2,443.5 269.6,447.1 270.0,444.1 270.3,442.5 270.7,444.0 271.1,449.3 271.5,446.1 271.9,441.6 272.3,447.1 272.6,440.7 273.0,441.3 273.4,439.9 273.8,450.3 274.2,442.4 274.6,440.0 274.9,437.8 275.3,444.7 275.7,444.1 276.1,444.4 276.5,441.8 276.8,432.6 277.2,444.6 277.6,441.4 278.0,445.7 278.4,446.0 278.8,442.5 279.1,446.2 279.5,448.9 279.9,446.7 280.3,447.0 280.7,446.9 281.1,444.8 281.4,445.3 281.8,445.1 282.2,445.9 282.6,443.3 283.0,441.2 283.4,445.5 283.7,448.5 284.1,450.2 284.5,446.8 284.9,443.3 285.3,445.3 285.7,447.7 286.0,448.9 286.4,450.1 286.8,450.1 287.2,451.8 287.6,448.8 288.0,446.7 288.3,446.0 288.7,450.7 289.1,443.1 289.5,441.4 289.9,444.6 290.2,443.3 290.6,442.4 291.0,444.7 291.4,452.7 291.8,453.1 292.2,451.9 292.5,446.2 292.9,442.4 293.3,442.4 293.7,445.8 294.1,443.6 294.5,446.3 294.8,440.7 295.2,441.9 295.6,444.6 296.0,447.3 296.4,446.8 296.8,446.9 297.1,454.2 297.5,447.3 297.9,443.4 298.3,446.1 298.7,442.8 299.1,447.4 299.4,448.4 299.8,449.1 300.2,449.3 300.6,449.6 301.0,446.1 301.4,445.4 301.7,442.0 302.1,441.6 302.5,438.6 302.9,440.3 303.3,440.6 303.6,444.2 304.0,435.9 304.4,432.0 304.8,428.1 305.2,432.4 305.6,433.6 305.9,430.5 306.3,431.6 306.7,424.0 307.1,426.0 307.5,420.2 307.9,418.4 308.2,426.8 308.6,423.9 309.0,421.6 309.4,424.0 309.8,421.7 310.2,422.0 310.5,420.4 310.9,413.8 311.3,411.3 311.7,408.6 312.1,409.7 312.5,406.3 312.8,407.1 313.2,400.7 313.6,400.1 314.0,399.6 314.4,397.9 314.8,394.9 315.1,386.3 315.5,386.3 315.9,386.3 316.3,390.1 316.7,384.6 317.0,382.8 317.4,384.4 317.8,379.8 318.2,382.6 318.6,378.1 319.0,381.5 319.3,383.7 319.7,382.4 320.1,383.7 320.5,377.7 320.9,383.0 321.3,380.5 321.6,379.8 322.0,381.2 322.4,381.1 322.8,374.9 323.2,383.0 323.6,382.7 323.9,383.7 324.3,379.0 324.7,382.6 325.1,383.0 325.5,385.0 325.9,379.5 326.2,377.9 326.6,379.3 327.0,385.1 327.4,383.8 327.8,384.5 328.2,384.7 328.5,388.5 328.9,389.8 329.3,393.8 329.7,390.6 330.1,392.6 330.4,388.4 330.8,391.1 331.2,387.8 331.6,389.1 332.0,391.6 332.4,390.3 332.7,386.7 333.1,386.1 333.5,388.6 333.9,394.5 334.3,393.3 334.7,389.6 335.0,394.5 335.4,390.6 335.8,388.1 336.2,381.4 336.6,381.5 337.0,384.8 337.3,383.6 337.7,382.0 338.1,380.4 338.5,377.6 338.9,384.7 339.3,387.5 339.6,383.5 340.0,389.3 340.4,387.9 340.8,388.6 341.2,389.5 341.6,385.5 341.9,383.7 342.3,386.3 342.7,382.8 343.1,381.4 343.5,384.4 343.8,379.7 344.2,382.8 344.6,382.0 345.0,386.6 345.4,392.0 345.8,389.5 346.1,390.7 346.5,385.1 346.9,383.0 347.3,386.8 347.7,391.7 348.1,396.1 348.4,388.2 348.8,383.0 349.2,380.4 349.6,381.9 350.0,376.4 350.4,381.4 350.7,377.1 351.1,373.6 351.5,374.6 351.9,377.1 352.3,380.1 352.7,377.7 353.0,375.1 353.4,380.2 353.8,378.5 354.2,376.4 354.6,377.4 355.0,380.1 355.3,381.6 355.7,381.4 356.1,381.1 356.5,378.5 356.9,384.2 357.2,378.8 357.6,378.9 358.0,375.2 358.4,378.0 358.8,380.1 359.2,385.0 359.5,379.0 359.9,382.9 360.3,385.2 360.7,387.5 361.1,389.0 361.5,381.5 361.8,385.5 362.2,384.8 362.6,379.0 363.0,381.2 363.4,382.3 363.8,381.1 364.1,387.0 364.5,384.8 364.9,383.8 365.3,382.9 365.7,379.1 366.1,381.3 366.4,383.2 366.8,384.3 367.2,384.4 367.6,382.3 368.0,382.4 368.4,384.9 368.7,389.4 369.1,390.1 369.5,387.1 369.9,386.5 370.3,387.0 370.6,389.6 371.0,384.2 371.4,385.2 371.8,389.5 372.2,387.0 372.6,387.0 372.9,386.3 373.3,385.0 373.7,384.6 374.1,380.1 374.5,383.7 374.9,391.1 375.2,398.3 375.6,396.7 376.0,401.3 376.4,393.8 376.8,398.1 377.2,396.8 377.5,399.8 377.9,394.4 378.3,400.9 378.7,402.6 379.1,407.3 379.5,402.3 379.8,402.7 380.2,398.6 380.6,399.2 381.0,397.6 381.4,394.2 381.8,391.9 382.1,396.9 382.5,397.7 382.9,397.2 383.3,403.4 383.7,399.1 384.0,397.3 384.4,396.7 384.8,400.4 385.2,401.9 385.6,398.1 386.0,404.3 386.3,403.9 386.7,411.3 387.1,416.4 387.5,413.3 387.9,413.4 388.3,413.3 388.6,410.6 389.0,415.4 389.4,414.1 389.8,414.2 390.2,413.8 390.6,412.0 390.9,415.1 391.3,410.0 391.7,410.2 392.1,415.2 392.5,424.7 392.9,424.9 393.2,431.7 393.6,435.1 394.0,429.1 394.4,425.7 394.8,421.8 395.2,433.6 395.5,432.6 395.9,433.3 396.3,434.5 396.7,431.9 397.1,433.4 397.4,434.7 397.8,441.7 398.2,440.1 398.6,437.7 399.0,438.9 399.4,435.2 399.7,437.7 400.1,436.1 400.5,437.6 400.9,433.3 401.3,436.2 401.7,433.1 402.0,433.1 402.4,436.0 402.8,434.4 403.2,436.4 403.6,437.4 404.0,442.1 404.3,439.0 404.7,439.8 405.1,438.1 405.5,438.2 405.9,441.3 406.3,441.2 406.6,441.1 407.0,444.3 407.4,437.3 407.8,438.9 408.2,435.0 408.6,429.4 408.9,433.0 409.3,429.9 409.7,428.3 410.1,437.0 410.5,436.0 410.8,439.0 411.2,438.0 411.6,438.5 412.0,433.6 412.4,432.8 412.8,435.1 413.1,432.6 413.5,428.7 413.9,435.2 414.3,434.8 414.7,438.4 415.1,438.9 415.4,433.5 415.8,432.8 416.2,439.0 416.6,435.2 417.0,435.1 417.4,433.5 417.7,440.9 418.1,446.4 418.5,443.3 418.9,444.1 419.3,439.1 419.7,438.3 420.0,430.7 420.4,437.5 420.8,436.1 421.2,434.0 421.6,429.7 422.0,437.8 422.3,439.2 422.7,438.7 423.1,431.0" fill="none" stroke="#0000ff" stroke-width="1.5" stroke-linejoin="round"/>
<polyline points="262.3,450.7 262.7,452.4 263.1,450.8 263.4,447.6 263.8,445.0 264.2,446.2 264.6,448.2 265.0,450.2 265.4,451.7 265.7,454.1 266.1,456.7 266.5,458.8 266.9,452.8 267.3,452.2 267.7,449.3 268.0,453.7 268.4,452.0 268.8,451.7 269.2,449.9 269.6,451.2 270.0,448.9 270.3,447.5 270.7,446.0 271.1,453.6 271.5,455.7 271.9,450.2 272.3,444.4 272.6,446.3 273.0,449.5 273.4,447.4 273.8,448.7 274.2,449.5 274.6,447.1 274.9,448.9 275.3,454.4 275.7,454.9 276.1,451.9 276.5,453.9 276.8,452.0 277.2,453.2 277.6,451.2 278.0,452.8 278.4,450.1 278.8,451.8 279.1,454.5 279.5,452.0 279.9,451.1 280.3,451.1 280.7,455.3 281.1,454.9 281.4,451.2 281.8,450.9 282.2,454.4 282.6,450.2 283.0,450.0 283.4,451.0 283.7,452.7 284.1,452.7 284.5,451.1 284.9,457.3 285.3,455.7 285.7,457.1 286.0,453.6 286.4,452.4 286.8,452.0 287.2,450.7 287.6,446.9 288.0,444.2 288.3,450.5 288.7,446.4 289.1,448.3 289.5,453.8 289.9,449.3 290.2,452.1 290.6,453.1 291.0,449.8 291.4,450.7 291.8,450.3 292.2,447.4 292.5,447.1 292.9,453.3 293.3,450.4 293.7,450.5 294.1,449.6 294.5,448.6 294.8,446.3 295.2,445.9 295.6,447.0 296.0,445.0 296.4,446.7 296.8,449.2 297.1,447.9 297.5,448.9 297.9,450.0 298.3,448.0 298.7,447.7 299.1,449.0 299.4,450.0 299.8,451.7 300.2,453.9 300.6,446.8 301.0,447.9 301.4,455.1 301.7,452.8 302.1,453.7 302.5,454.8 302.9,453.7 303.3,451.5 303.6,448.3 304.0,449.7 304.4,450.3 304.8,448.8 305.2,455.1 305.6,456.6 305.9,457.1 306.3,451.0 306.7,451.2 307.1,453.1 307.5,453.4 307.9,454.2 308.2,450.5 308.6,449.2 309.0,446.7 309.4,444.9 309.8,443.2 310.2,443.1 310.5,445.2 310.9,443.9 311.3,443.8 311.7,443.1 312.1,437.9 312.5,439.6 312.8,436.3 313.2,434.0 313.6,432.9 314.0,432.9 314.4,430.8 314.8,429.4 315.1,429.9 315.5,429.2 315.9,429.7 316.3,426.1 316.7,415.6 317.0,418.4 317.4,413.8 317.8,412.3 318.2,408.6 318.6,406.1 319.0,406.3 319.3,404.6 319.7,403.9 320.1,403.0 320.5,402.8 320.9,400.7 321.3,405.3 321.6,403.7 322.0,402.1 322.4,403.1 322.8,402.8 323.2,398.7 323.6,401.8 323.9,399.9 324.3,399.6 324.7,403.7 325.1,406.6 325.5,407.8 325.9,409.5 326.2,404.4 326.6,407.3 327.0,408.5 327.4,411.0 327.8,411.8 328.2,412.2 328.5,411.9 328.9,410.2 329.3,407.6 329.7,408.7 330.1,412.0 330.4,406.1 330.8,405.9 331.2,406.1 331.6,409.0 332.0,407.3 332.4,406.4 332.7,404.8 333.1,405.1 333.5,404.2 333.9,404.4 334.3,396.8 334.7,405.2 335.0,404.3 335.4,410.0 335.8,406.8 336.2,406.2 336.6,407.4 337.0,403.0 337.3,404.5 337.7,407.5 338.1,405.6 338.5,405.2 338.9,408.4 339.3,401.7 339.6,402.6 340.0,403.2 340.4,407.6 340.8,401.8 341.2,401.9 341.6,401.0 341.9,400.3 342.3,404.8 342.7,406.0 343.1,402.8 343.5,403.6 343.8,400.1 344.2,403.0 344.6,400.8 345.0,399.5 345.4,403.8 345.8,405.4 346.1,404.5 346.5,406.0 346.9,406.2 347.3,406.1 347.7,409.3 348.1,410.4 348.4,408.5 348.8,409.0 349.2,411.2 349.6,411.6 350.0,409.8 350.4,408.6 350.7,408.5 351.1,408.6 351.5,405.2 351.9,408.4 352.3,410.8 352.7,408.9 353.0,409.6 353.4,411.2 353.8,413.2 354.2,413.9 354.6,412.9 355.0,412.0 355.3,415.6 355.7,421.4 356.1,415.0 356.5,416.2 356.9,415.1 357.2,416.8 357.6,421.0 358.0,421.7 358.4,422.2 358.8,420.5 359.2,418.3 359.5,417.1 359.9,416.6 360.3,412.8 360.7,413.9 361.1,412.3 361.5,413.1 361.8,417.5 362.2,419.9 362.6,415.8 363.0,416.8 363.4,414.0 363.8,416.6 364.1,420.8 364.5,420.7 364.9,419.1 365.3,420.7 365.7,416.2 366.1,415.8 366.4,415.9 366.8,418.4 367.2,412.4 367.6,413.0 368.0,416.9 368.4,413.3 368.7,415.8 369.1,413.8 369.5,417.2 369.9,418.1 370.3,414.1 370.6,416.4 371.0,418.0 371.4,414.5 371.8,415.0 372.2,419.4 372.6,414.7 372.9,415.2 373.3,413.8 373.7,417.2 374.1,416.7 374.5,416.3 374.9,421.8 375.2,421.6 375.6,420.5 376.0,422.8 376.4,419.8 376.8,419.6 377.2,422.9 377.5,424.0 377.9,424.6 378.3,422.8 378.7,424.4 379.1,423.6 379.5,424.8 379.8,425.7 380.2,422.0 380.6,418.6 381.0,419.2 381.4,421.5 381.8,424.4 382.1,424.8 382.5,428.5 382.9,423.3 383.3,424.2 383.7,427.3 384.0,428.3 384.4,426.2 384.8,425.2 385.2,427.8 385.6,427.1 386.0,433.4 386.3,431.4 386.7,426.2 387.1,425.6 387.5,429.3 387.9,426.8 388.3,428.2 388.6,430.4 389.0,429.0 389.4,430.2 389.8,423.5 390.2,423.7 390.6,425.2 390.9,425.0 391.3,427.1 391.7,430.6 392.1,434.6 392.5,432.4 392.9,429.7 393.2,430.4 393.6,431.3 394.0,435.1 394.4,436.5 394.8,429.6 395.2,433.5 395.5,437.1 395.9,434.2 396.3,429.5 396.7,431.7 397.1,432.1 397.4,428.2 397.8,432.9 398.2,433.2 398.6,430.9 399.0,428.1 399.4,430.9 399.7,432.9 400.1,433.2 400.5,433.0 400.9,437.5 401.3,437.3 401.7,437.1 402.0,434.7 402.4,437.4 402.8,434.1 403.2,433.5 403.6,433.9 404.0,437.3 404.3,440.9 404.7,439.2 405.1,437.8 405.5,438.6 405.9,437.3 406.3,438.3 406.6,437.5 407.0,436.9 407.4,430.0 407.8,434.2 408.2,432.8 408.6,431.4 408.9,433.4 409.3,435.5 409.7,434.0 410.1,432.2 410.5,430.0 410.8,429.6 411.2,433.7 411.6,435.6 412.0,436.7 412.4,434.3 412.8,434.2 413.1,431.4 413.5,432.1 413.9,435.1 414.3,440.2 414.7,440.5 415.1,436.6 415.4,434.0 415.8,434.0 416.2,433.5 416.6,435.6 417.0,438.5 417.4,439.0 417.7,437.5 418.1,434.8 418.5,431.6 418.9,430.9 419.3,429.9 419.7,436.1 420.0,435.7 420.4,436.2 420.8,434.5 421.2,434.0 421.6,432.7 422.0,431.3 422.3,435.3 422.7,437.0 423.1,436.2" fill="none" stroke="#000" stroke-width="1.7" stroke-linejoin="round"/>
<line x1="383" y1="361.5" x2="395.3" y2="361.5" stroke="#000" stroke-width="1.8" />
<line x1="383" y1="376.9" x2="395.3" y2="376.9" stroke="#0000ff" stroke-width="1.8" />
<text x="402.6" y="364.5" font-size="10" font-weight="normal" text-anchor="start" fill="#000" >control</text>
<text x="402.6" y="379.9" font-size="10" font-weight="normal" text-anchor="start" fill="#000" textLength="69.6" lengthAdjust="spacingAndGlyphs" >REV-ERBa cKO</text>
<rect x="535.2" y="341.6" width="23.3" height="11.4" fill="#fff" stroke="#000" stroke-width="1.2"/>
<rect x="535.2" y="364.8" width="23.3" height="11.4" fill="#3063ff" stroke="#000" stroke-width="1.2"/>
<text x="568.8" y="349.3" font-size="10.4" font-weight="bold" text-anchor="start" fill="#000" textLength="73.2" lengthAdjust="spacingAndGlyphs" >Control mouse</text>
<text x="568.8" y="372.6" font-size="10.4" font-weight="bold" textLength="116.5" lengthAdjust="spacingAndGlyphs">5-HT<tspan font-size="6.2" dy="-3.4">DR</tspan><tspan dy="3.4"> REV-ERBα cKO</tspan></text>
<rect x="513.2" y="450.6" width="19.09999999999991" height="53.599999999999966" fill="#fff" stroke="#000" stroke-width="1.3"/>
<rect x="544.8" y="429.3" width="19.700000000000045" height="74.89999999999998" fill="#5555f5" stroke="#000" stroke-width="1.3"/>
<rect x="597.3" y="457.2" width="19.700000000000045" height="47.0" fill="#fff" stroke="#000" stroke-width="1.3"/>
<rect x="629.8" y="429.3" width="19.100000000000023" height="74.89999999999998" fill="#5555f5" stroke="#000" stroke-width="1.3"/>
<line x1="501.7" y1="398.2" x2="501.7" y2="504.8" stroke="#000" stroke-width="1.3" />
<line x1="501.09999999999997" y1="504.2" x2="660.4" y2="504.2" stroke="#000" stroke-width="1.3" />
<line x1="497.7" y1="504.2" x2="501.7" y2="504.2" stroke="#000" stroke-width="1.1" />
<text x="496.9" y="507.09999999999997" font-size="8" font-weight="bold" text-anchor="end" fill="#000" >0</text>
<line x1="497.7" y1="483.09999999999997" x2="501.7" y2="483.09999999999997" stroke="#000" stroke-width="1.1" />
<text x="496.9" y="485.99999999999994" font-size="8" font-weight="bold" text-anchor="end" fill="#000" >50</text>
<line x1="497.7" y1="462.0" x2="501.7" y2="462.0" stroke="#000" stroke-width="1.1" />
<text x="496.9" y="464.9" font-size="8" font-weight="bold" text-anchor="end" fill="#000" >100</text>
<line x1="497.7" y1="440.9" x2="501.7" y2="440.9" stroke="#000" stroke-width="1.1" />
<text x="496.9" y="443.79999999999995" font-size="8" font-weight="bold" text-anchor="end" fill="#000" >150</text>
<line x1="497.7" y1="419.79999999999995" x2="501.7" y2="419.79999999999995" stroke="#000" stroke-width="1.1" />
<text x="496.9" y="422.69999999999993" font-size="8" font-weight="bold" text-anchor="end" fill="#000" >200</text>
<line x1="497.7" y1="398.7" x2="501.7" y2="398.7" stroke="#000" stroke-width="1.1" />
<text x="496.9" y="401.59999999999997" font-size="8" font-weight="bold" text-anchor="end" fill="#000" >250</text>
<line x1="538.8" y1="504.2" x2="538.8" y2="508.5" stroke="#000" stroke-width="1.2" />
<line x1="623.3" y1="504.2" x2="623.3" y2="508.5" stroke="#000" stroke-width="1.2" />
<text x="536.5" y="521.3" font-size="13" font-weight="bold" text-anchor="middle" fill="#000" textLength="36" lengthAdjust="spacingAndGlyphs" >CT 00</text>
<text x="625.2" y="521.3" font-size="13" font-weight="bold" text-anchor="middle" fill="#000" textLength="36" lengthAdjust="spacingAndGlyphs" >CT 12</text>
<text transform="translate(476.8,451.4) rotate(-90)" font-size="8.6" font-weight="bold" text-anchor="middle" textLength="113.3" lengthAdjust="spacingAndGlyphs">Area under the curve (AUC)</text>
<line x1="523.1" y1="429.3" x2="554.6" y2="440.8" stroke="#000" stroke-width="1.25" />
<line x1="523.1" y1="439.1" x2="554.6" y2="419.4" stroke="#000" stroke-width="1.25" />
<line x1="523.1" y1="444.7" x2="554.6" y2="421.7" stroke="#000" stroke-width="1.25" />
<line x1="523.1" y1="459.8" x2="554.6" y2="420.5" stroke="#000" stroke-width="1.25" />
<line x1="523.1" y1="463.1" x2="554.6" y2="429.9" stroke="#000" stroke-width="1.25" />
<line x1="523.1" y1="467.1" x2="554.6" y2="442.4" stroke="#000" stroke-width="1.25" />
<line x1="607.2" y1="441.8" x2="639" y2="440.8" stroke="#000" stroke-width="1.25" />
<line x1="607.2" y1="449" x2="639" y2="419.4" stroke="#000" stroke-width="1.25" />
<line x1="607.2" y1="456.2" x2="639" y2="421.1" stroke="#000" stroke-width="1.25" />
<line x1="607.2" y1="458.8" x2="639" y2="420.2" stroke="#000" stroke-width="1.25" />
<line x1="607.2" y1="466.1" x2="639" y2="428.3" stroke="#000" stroke-width="1.25" />
<line x1="607.2" y1="467.7" x2="639" y2="442.4" stroke="#000" stroke-width="1.25" />
<circle cx="523.1" cy="429.3" r="2.1" fill="#000"/>
<circle cx="523.1" cy="439.1" r="2.1" fill="#000"/>
<circle cx="523.1" cy="444.7" r="2.1" fill="#000"/>
<circle cx="523.1" cy="459.8" r="2.1" fill="#000"/>
<circle cx="523.1" cy="463.1" r="2.1" fill="#000"/>
<circle cx="523.1" cy="467.1" r="2.1" fill="#000"/>
<circle cx="554.6" cy="440.8" r="2.1" fill="#000"/>
<circle cx="554.6" cy="419.4" r="2.1" fill="#000"/>
<circle cx="554.6" cy="421.7" r="2.1" fill="#000"/>
<circle cx="554.6" cy="420.5" r="2.1" fill="#000"/>
<circle cx="554.6" cy="429.9" r="2.1" fill="#000"/>
<circle cx="554.6" cy="442.4" r="2.1" fill="#000"/>
<circle cx="607.2" cy="441.8" r="2.1" fill="#000"/>
<circle cx="607.2" cy="449" r="2.1" fill="#000"/>
<circle cx="607.2" cy="456.2" r="2.1" fill="#000"/>
<circle cx="607.2" cy="458.8" r="2.1" fill="#000"/>
<circle cx="607.2" cy="466.1" r="2.1" fill="#000"/>
<circle cx="607.2" cy="467.7" r="2.1" fill="#000"/>
<circle cx="639" cy="440.8" r="2.1" fill="#000"/>
<circle cx="639" cy="419.4" r="2.1" fill="#000"/>
<circle cx="639" cy="421.1" r="2.1" fill="#000"/>
<circle cx="639" cy="420.2" r="2.1" fill="#000"/>
<circle cx="639" cy="428.3" r="2.1" fill="#000"/>
<circle cx="639" cy="442.4" r="2.1" fill="#000"/>
<line x1="524.1" y1="399.2" x2="554.3" y2="399.2" stroke="#000" stroke-width="1.5" />
<line x1="524.1" y1="394.8" x2="524.1" y2="404.0" stroke="#000" stroke-width="1.5" />
<line x1="554.3" y1="394.8" x2="554.3" y2="404.0" stroke="#000" stroke-width="1.5" />
<text x="539.9000000000001" y="401.2" font-size="13" font-weight="normal" text-anchor="middle" fill="#000" letter-spacing="1.4">*</text>
<line x1="606.8" y1="398.2" x2="636.4" y2="398.2" stroke="#000" stroke-width="1.5" />
<line x1="606.8" y1="393.8" x2="606.8" y2="403.0" stroke="#000" stroke-width="1.5" />
<line x1="636.4" y1="393.8" x2="636.4" y2="403.0" stroke="#000" stroke-width="1.5" />
<text x="622.3" y="399.4" font-size="13" font-weight="normal" text-anchor="middle" fill="#000" letter-spacing="1.4">**</text>
<rect x="25.3" y="572.5" width="76.6" height="25.4" fill="#fff" stroke="#222" stroke-width="1.1"/>
<text x="64.5" y="583.4" font-size="7.9" font-weight="bold" text-anchor="middle" fill="#222" textLength="64.4" lengthAdjust="spacingAndGlyphs" >Fiber-photometry</text>
<text x="64.5" y="592.7" font-size="7.9" font-weight="bold" text-anchor="middle" fill="#222" >device</text>
<path d="M62.9,598 L63,602 Q63.5,605.5 70,607.2 Q84,610.5 98.3,613.3" fill="none" stroke="#000" stroke-width="2.2"/>
<g transform="translate(-22.5,388.5) scale(1.155)">
<path d="M44.4,215 C44.4,211.8 47,210.6 50.2,210.8 C53,211 55,212.2 56.2,213.6 C57.5,211.5 59.5,209.7 61.9,208.4 C65.5,206.4 69.5,205.2 73.6,204.7 C78.5,204 83.5,204 88.2,204.4 C92,204.8 95.5,205.4 98.4,206.2 C100.5,206.8 102.5,207.6 104.2,208.4 L109.5,210 C111,208.6 113.5,208.4 116,209.2 C118.5,210 120.5,211.2 121.8,212.7 C123.8,214.6 125,216.5 125.4,218.6 C125.8,220.5 125.5,222.3 124.7,223.7 C127,225 128.8,226.8 129.2,229 C129.6,231.3 129,233 127.6,234 C125,235.5 122,235.6 118.8,235.5 L104.2,235.4 C102,235 100,234.2 98.4,233.2 C96,232 93.5,231.5 91.1,231.9 C86,233 81,236.6 76.5,236.8 C72,236.8 68.5,235.3 66,233.4 C61,229.6 58,223.5 54.6,218.8 C52.5,219.6 50.5,219.8 48.8,219.3 C46,218.6 44.4,217 44.4,215 Z" fill="#fff" stroke="#111" stroke-width="1"/>
<path d="M66.3,216.4 C69,213.5 74,211.5 79.4,211.3 C85,210 91,209.6 96,211 C99,211.8 101.5,213 103,213.8" fill="none" stroke="#777" stroke-width="1"/>
<path d="M78.7,212.7 L83.8,212 L81.6,218.6 L79.4,219.3 Z" fill="#8a8a8a"/>
<path d="M84,212.5 C86,213.2 87.5,214.5 88.2,216 C91,213.6 95,212.2 98.4,212" fill="none" stroke="#666" stroke-width="1"/>
<path d="M69,217.5 C72,215.5 75.5,214.3 78.5,214" fill="none" stroke="#999" stroke-width="0.8"/>
<ellipse cx="106.6" cy="223.5" rx="10" ry="6.1" fill="#8eb4e3"/>
<path d="M111.5,210.8 C113.5,209.4 116,209.6 118,210.4 C121,211.8 123.5,214.5 124.6,218 C125.2,220.5 124.8,222.5 124.2,223.6 C122,224.6 119.5,224.4 117.6,223.4" fill="none" stroke="#111" stroke-width="1.1"/>
<path d="M112.5,212.5 l2.2,-1.5 l1.2,2.4 l2,-1.8 l0.8,2.6 l2.2,-1 l-0.4,2.6 l2,0.2 l-1.4,2 l1.8,1.2 l-2.4,1 l0.6,1.8 l-2.6,-0.6 M114,215.5 l2,-0.6 l0.6,2 l2,-0.6 l0.2,2.2 l2,0 l-1,2 M113.5,218 l1.8,0.8 l1,-1.6 M116.5,220.5 l1.6,1.4 l1.2,-1.6 M118.5,213.6 l1,1.6 M121,216 l-1.2,1.4" fill="none" stroke="#111" stroke-width="1"/>
<rect x="103.9" y="196.2" width="4.7" height="19.6" fill="#fff" stroke="#222" stroke-width="0.9"/>
<polygon points="116.9,189 120.8,190.1 110.3,215 109.7,214.6" fill="#00a651"/>
<text x="107.6" y="226" font-size="9.6" font-weight="bold" text-anchor="middle" fill="#111" >DR</text>
</g>
<text x="112" y="599" font-size="10" font-weight="bold" text-anchor="start" fill="#000" textLength="93.5" lengthAdjust="spacingAndGlyphs" >AAV-DIO-iSeroSnFR</text>
<text x="83.5" y="676.6" font-size="9.8" font-weight="bold" text-anchor="middle" fill="#111" textLength="84" lengthAdjust="spacingAndGlyphs" >SERT-cre(control)</text>
<text x="83.4" y="687.3" font-size="9.8" font-weight="bold" text-anchor="middle" fill="#111" >or</text>
<text x="31.6" y="699.6" font-size="9.8" font-weight="bold" fill="#111" textLength="106.4" lengthAdjust="spacingAndGlyphs">5-HT<tspan font-size="5.88" dy="-3.23">DR</tspan><tspan dy="3.23"> REV-ERBα cKO</tspan></text>
<g clip-path="url(#clipF)">
<rect x="177" y="619" width="117" height="116" fill="#04142a"/>
<rect x="177" y="619" width="117" height="116" filter="url(#noiseB)"/>
<ellipse cx="274" cy="700" rx="26" ry="30" fill="#010712" opacity="0.85" filter="url(#bl4)"/>
<ellipse cx="205" cy="692" rx="18" ry="8" fill="#010712" opacity="0.8" filter="url(#bl2)"/>
<ellipse cx="282" cy="645" rx="12" ry="14" fill="#010712" opacity="0.6" filter="url(#bl4)"/>
<ellipse cx="200" cy="722" rx="20" ry="10" fill="#010712" opacity="0.5" filter="url(#bl4)"/>
<ellipse cx="238" cy="668" rx="24" ry="18" fill="#1c5c8c" opacity="0.4" filter="url(#bl4)"/>
<ellipse cx="234" cy="705" rx="7" ry="26" fill="#1f7a5a" opacity="0.35" filter="url(#bl4)"/>
<ellipse cx="192" cy="632" rx="16" ry="13" fill="#1a8a60" opacity="0.45" filter="url(#bl4)"/>
<path d="M236.5,619 L240.5,619 L234.5,638 L232,639 Z" fill="#1d90e0" opacity="0.8" filter="url(#bl1)"/>
<polygon points="186.6,622.1 194.6,621.2 213.3,661.3 203.5,674.7 196.4,664.9 185.7,639.9" fill="#2a9cc0" opacity="0.6" filter="url(#bl1)"/>
<polygon points="190.1,631.9 196.4,631 199,640 204.4,648.8 206,657 209.7,663.1 204.4,668.4 202.5,662 199.9,659.5 197,650 192.8,645.3 193.5,638" fill="#020512"/>
<ellipse cx="203.5" cy="678" rx="5.5" ry="4" fill="#1c50ff" opacity="0.95" filter="url(#bl2)"/>
<polyline points="192.8,621.2 219.5,666.6 203.5,676.4 177.1,631.9" fill="none" stroke="#fff" stroke-width="0.9" stroke-dasharray="3.4,1.6"/>
<line x1="281.9" y1="729" x2="289.9" y2="729" stroke="#eee" stroke-width="0.9" />
</g>
<text x="265.8" y="635.8" font-size="11.5" font-weight="bold" text-anchor="start" fill="#fff" >DR</text>
<text x="184.8" y="711.5" font-size="11.5" font-weight="bold" text-anchor="start" fill="#10b45a" textLength="60.5" lengthAdjust="spacingAndGlyphs" >iSeroSnFR</text>
<text x="184.8" y="725.4" font-size="11.5" font-weight="bold" text-anchor="start" fill="#2d6df5" >DAPI</text>
<line x1="377.3" y1="583.7" x2="377.3" y2="717.7" stroke="#000" stroke-width="1.3" />
<line x1="376.7" y1="717.1" x2="579" y2="717.1" stroke="#000" stroke-width="1.3" />
<line x1="371.5" y1="717.1" x2="377.3" y2="717.1" stroke="#000" stroke-width="1.2" />
<text x="370.4" y="720.8000000000001" font-size="10" font-weight="bold" text-anchor="end" fill="#000" >0.0</text>
<line x1="371.5" y1="690.52" x2="377.3" y2="690.52" stroke="#000" stroke-width="1.2" />
<text x="370.4" y="694.22" font-size="10" font-weight="bold" text-anchor="end" fill="#000" >0.5</text>
<line x1="371.5" y1="663.94" x2="377.3" y2="663.94" stroke="#000" stroke-width="1.2" />
<text x="370.4" y="667.6400000000001" font-size="10" font-weight="bold" text-anchor="end" fill="#000" >1.0</text>
<line x1="371.5" y1="637.36" x2="377.3" y2="637.36" stroke="#000" stroke-width="1.2" />
<text x="370.4" y="641.0600000000001" font-size="10" font-weight="bold" text-anchor="end" fill="#000" >1.5</text>
<line x1="371.5" y1="610.78" x2="377.3" y2="610.78" stroke="#000" stroke-width="1.2" />
<text x="370.4" y="614.48" font-size="10" font-weight="bold" text-anchor="end" fill="#000" >2.0</text>
<line x1="371.5" y1="584.2" x2="377.3" y2="584.2" stroke="#000" stroke-width="1.2" />
<text x="370.4" y="587.9000000000001" font-size="10" font-weight="bold" text-anchor="end" fill="#000" >2.5</text>
<line x1="394.9" y1="717.1" x2="394.9" y2="722.3" stroke="#000" stroke-width="1.2" />
<text x="395.4" y="733.5" font-size="10.2" font-weight="bold" text-anchor="middle" fill="#000" >00</text>
<line x1="436.02" y1="717.1" x2="436.02" y2="722.3" stroke="#000" stroke-width="1.2" />
<text x="436.52" y="733.5" font-size="10.2" font-weight="bold" text-anchor="middle" fill="#000" >06</text>
<line x1="477.14" y1="717.1" x2="477.14" y2="722.3" stroke="#000" stroke-width="1.2" />
<text x="477.64" y="733.5" font-size="10.2" font-weight="bold" text-anchor="middle" fill="#000" >12</text>
<line x1="518.26" y1="717.1" x2="518.26" y2="722.3" stroke="#000" stroke-width="1.2" />
<text x="518.76" y="733.5" font-size="10.2" font-weight="bold" text-anchor="middle" fill="#000" >18</text>
<line x1="559.38" y1="717.1" x2="559.38" y2="722.3" stroke="#000" stroke-width="1.2" />
<text x="559.88" y="733.5" font-size="10.2" font-weight="bold" text-anchor="middle" fill="#000" >24</text>
<text x="372.2" y="733.5" font-size="10" font-weight="bold" text-anchor="start" fill="#000" >ZT</text>
<text transform="translate(338.3,650.9) rotate(-90)" font-size="9.3" font-weight="bold" text-anchor="middle">iSero</text>
<text transform="translate(350.3,650.6) rotate(-90)" font-size="10" font-weight="bold" text-anchor="middle" textLength="97.3" lengthAdjust="spacingAndGlyphs">Number of Peak/min</text>
<circle cx="387.8" cy="607.3" r="1.6" fill="none" stroke="#000" stroke-width="1.1"/>
<circle cx="387.8" cy="613.9" r="1.6" fill="none" stroke="#000" stroke-width="1.1"/>
<circle cx="383.9" cy="627.8" r="1.6" fill="none" stroke="#000" stroke-width="1.1"/>
<circle cx="387.8" cy="628.8" r="1.6" fill="none" stroke="#000" stroke-width="1.1"/>
<circle cx="391.7" cy="630.4" r="1.6" fill="none" stroke="#000" stroke-width="1.1"/>
<line x1="382" y1="621.2" x2="393.8" y2="621.2" stroke="#000" stroke-width="1.1" />
<line x1="387.9" y1="616" x2="387.9" y2="626.5" stroke="#000" stroke-width="0.85" />
<line x1="385.29999999999995" y1="616" x2="390.5" y2="616" stroke="#000" stroke-width="0.85" />
<line x1="385.29999999999995" y1="626.5" x2="390.5" y2="626.5" stroke="#000" stroke-width="0.85" />
<text x="389.4" y="601.6" font-size="6.6" font-weight="normal" text-anchor="middle" fill="#000" font-style="italic">####</text>
<rect x="399.09999999999997" y="617.8000000000001" width="2.6" height="2.6" fill="#0000ff"/>
<rect x="404.9" y="618.6" width="2.6" height="2.6" fill="#0000ff"/>
<rect x="399.09999999999997" y="625.7" width="2.6" height="2.6" fill="#0000ff"/>
<rect x="404.9" y="626.5" width="2.6" height="2.6" fill="#0000ff"/>
<rect x="402.3" y="636.7" width="2.6" height="2.6" fill="#0000ff"/>
<line x1="397.8" y1="626.2" x2="409.3" y2="626.2" stroke="#0000ff" stroke-width="1.1" />
<line x1="403.55" y1="623" x2="403.55" y2="629.6" stroke="#0000ff" stroke-width="0.85" />
<line x1="400.95" y1="623" x2="406.15000000000003" y2="623" stroke="#0000ff" stroke-width="0.85" />
<line x1="400.95" y1="629.6" x2="406.15000000000003" y2="629.6" stroke="#0000ff" stroke-width="0.85" />
<circle cx="427.2" cy="638" r="1.6" fill="none" stroke="#000" stroke-width="1.1"/>
<circle cx="431.2" cy="638.8" r="1.6" fill="none" stroke="#000" stroke-width="1.1"/>
<circle cx="428.5" cy="646.2" r="1.6" fill="none" stroke="#000" stroke-width="1.1"/>
<circle cx="432.5" cy="646.2" r="1.6" fill="none" stroke="#000" stroke-width="1.1"/>
<circle cx="425.1" cy="642.8" r="1.6" fill="#000" stroke="#000" stroke-width="1.1"/>
<line x1="423.3" y1="642.2" x2="435.1" y2="642.2" stroke="#000" stroke-width="1.1" />
<line x1="429.20000000000005" y1="641.2" x2="429.20000000000005" y2="643.2" stroke="#000" stroke-width="0.85" />
<line x1="426.6" y1="641.2" x2="431.80000000000007" y2="641.2" stroke="#000" stroke-width="0.85" />
<line x1="426.6" y1="643.2" x2="431.80000000000007" y2="643.2" stroke="#000" stroke-width="0.85" />
<text x="429.5" y="631" font-size="6.6" font-weight="normal" text-anchor="middle" fill="#000" font-style="italic">##</text>
<rect x="443.0" y="626.5" width="2.6" height="2.6" fill="#0000ff"/>
<rect x="439.09999999999997" y="631.0" width="2.6" height="2.6" fill="#0000ff"/>
<rect x="443.0" y="630.2" width="2.6" height="2.6" fill="#0000ff"/>
<rect x="446.4" y="631.5" width="2.6" height="2.6" fill="#0000ff"/>
<rect x="443.0" y="637.0" width="2.6" height="2.6" fill="#0000ff"/>
<line x1="438.5" y1="632.8" x2="450.1" y2="632.8" stroke="#0000ff" stroke-width="1.1" />
<line x1="444.3" y1="631" x2="444.3" y2="634.6" stroke="#0000ff" stroke-width="0.85" />
<line x1="441.7" y1="631" x2="446.90000000000003" y2="631" stroke="#0000ff" stroke-width="0.85" />
<line x1="441.7" y1="634.6" x2="446.90000000000003" y2="634.6" stroke="#0000ff" stroke-width="0.85" />
<circle cx="467.9" cy="653.8" r="1.6" fill="none" stroke="#000" stroke-width="1.1"/>
<circle cx="471.9" cy="655.1" r="1.6" fill="none" stroke="#000" stroke-width="1.1"/>
<circle cx="466.6" cy="659.3" r="1.6" fill="none" stroke="#000" stroke-width="1.1"/>
<circle cx="469.3" cy="663" r="1.6" fill="none" stroke="#000" stroke-width="1.1"/>
<circle cx="473.2" cy="663" r="1.6" fill="none" stroke="#000" stroke-width="1.1"/>
<line x1="464" y1="659.3" x2="475.3" y2="659.3" stroke="#000" stroke-width="1.1" />
<line x1="469.65" y1="657.8" x2="469.65" y2="660.8" stroke="#000" stroke-width="0.85" />
<line x1="467.04999999999995" y1="657.8" x2="472.25" y2="657.8" stroke="#000" stroke-width="0.85" />
<line x1="467.04999999999995" y1="660.8" x2="472.25" y2="660.8" stroke="#000" stroke-width="0.85" />
<rect x="481.09999999999997" y="635.4000000000001" width="2.6" height="2.6" fill="#0000ff"/>
<rect x="486.3" y="635.4000000000001" width="2.6" height="2.6" fill="#0000ff"/>
<rect x="483.7" y="638.8000000000001" width="2.6" height="2.6" fill="#0000ff"/>
<rect x="483.7" y="644.9000000000001" width="2.6" height="2.6" fill="#0000ff"/>
<line x1="479.2" y1="640.7" x2="490.8" y2="640.7" stroke="#0000ff" stroke-width="1.1" />
<line x1="485.0" y1="638.6" x2="485.0" y2="642.8" stroke="#0000ff" stroke-width="0.85" />
<line x1="482.4" y1="638.6" x2="487.6" y2="638.6" stroke="#0000ff" stroke-width="0.85" />
<line x1="482.4" y1="642.8" x2="487.6" y2="642.8" stroke="#0000ff" stroke-width="0.85" />
<path d="M469.3,642 V607.3 H485.5 V614.7" fill="none" stroke="#000" stroke-width="1.1"/>
<text x="478.6" y="608.3" font-size="16" font-weight="normal" text-anchor="middle" fill="#000" letter-spacing="1.3">***</text>
<circle cx="510.3" cy="634.3" r="1.6" fill="none" stroke="#000" stroke-width="1.1"/>
<circle cx="512.2" cy="639.1" r="1.6" fill="none" stroke="#000" stroke-width="1.1"/>
<circle cx="513" cy="643.7" r="1.6" fill="none" stroke="#000" stroke-width="1.1"/>
<circle cx="507.6" cy="639.1" r="1.6" fill="#000" stroke="#000" stroke-width="1.1"/>
<line x1="505.4" y1="639.1" x2="516.7" y2="639.1" stroke="#000" stroke-width="1.1" />
<line x1="511.05" y1="638.2" x2="511.05" y2="640" stroke="#000" stroke-width="0.85" />
<line x1="508.45" y1="638.2" x2="513.65" y2="638.2" stroke="#000" stroke-width="0.85" />
<line x1="508.45" y1="640" x2="513.65" y2="640" stroke="#000" stroke-width="0.85" />
<text x="511" y="628.4" font-size="6.6" font-weight="normal" text-anchor="middle" fill="#000" font-style="italic">###</text>
<rect x="521.7" y="627.6" width="2.6" height="2.6" fill="#0000ff"/>
<rect x="524.9000000000001" y="628.9000000000001" width="2.6" height="2.6" fill="#0000ff"/>
<rect x="527.9000000000001" y="630.8000000000001" width="2.6" height="2.6" fill="#0000ff"/>
<rect x="524.6" y="646.5" width="2.6" height="2.6" fill="#0000ff"/>
<line x1="521" y1="633.5" x2="531.9" y2="633.5" stroke="#0000ff" stroke-width="1.1" />
<line x1="526.45" y1="629.4" x2="526.45" y2="637.5" stroke="#0000ff" stroke-width="0.85" />
<line x1="523.85" y1="629.4" x2="529.0500000000001" y2="629.4" stroke="#0000ff" stroke-width="0.85" />
<line x1="523.85" y1="637.5" x2="529.0500000000001" y2="637.5" stroke="#0000ff" stroke-width="0.85" />
<circle cx="548.6" cy="613.2" r="1.6" fill="none" stroke="#000" stroke-width="1.1"/>
<circle cx="554" cy="613.2" r="1.6" fill="none" stroke="#000" stroke-width="1.1"/>
<circle cx="548.6" cy="627.5" r="1.6" fill="none" stroke="#000" stroke-width="1.1"/>
<circle cx="554" cy="627.5" r="1.6" fill="none" stroke="#000" stroke-width="1.1"/>
<circle cx="551.3" cy="632.9" r="1.6" fill="none" stroke="#000" stroke-width="1.1"/>
<line x1="545.9" y1="623.5" x2="557.3" y2="623.5" stroke="#000" stroke-width="1.1" />
<line x1="551.5999999999999" y1="618.9" x2="551.5999999999999" y2="628" stroke="#000" stroke-width="0.85" />
<line x1="548.9999999999999" y1="618.9" x2="554.1999999999999" y2="618.9" stroke="#000" stroke-width="0.85" />
<line x1="548.9999999999999" y1="628" x2="554.1999999999999" y2="628" stroke="#000" stroke-width="0.85" />
<text x="551.3" y="604.9" font-size="6.6" font-weight="normal" text-anchor="middle" fill="#000" font-style="italic">####</text>
<rect x="565.7" y="616.8000000000001" width="2.6" height="2.6" fill="#0000ff"/>
<rect x="562.7" y="622.7" width="2.6" height="2.6" fill="#0000ff"/>
<rect x="565.7" y="622.2" width="2.6" height="2.6" fill="#0000ff"/>
<rect x="568.9000000000001" y="623.0" width="2.6" height="2.6" fill="#0000ff"/>
<rect x="565.7" y="639.2" width="2.6" height="2.6" fill="#0000ff"/>
<line x1="561.6" y1="625.6" x2="572.9" y2="625.6" stroke="#0000ff" stroke-width="1.1" />
<line x1="567.25" y1="622.1" x2="567.25" y2="629.7" stroke="#0000ff" stroke-width="0.85" />
<line x1="564.65" y1="622.1" x2="569.85" y2="622.1" stroke="#0000ff" stroke-width="0.85" />
<line x1="564.65" y1="629.7" x2="569.85" y2="629.7" stroke="#0000ff" stroke-width="0.85" />
<rect x="521.1" y="668.6" width="148.2" height="42.6" fill="#fff" stroke="#000" stroke-width="1.4"/>
<circle cx="527" cy="678.8" r="1.6" fill="none" stroke="#000" stroke-width="1.1"/>
<rect x="525.7" y="703.2" width="2.6" height="2.6" fill="#0000ff"/>
<text x="542.4" y="682.9" font-size="10.8" font-weight="normal" text-anchor="start" fill="#000" textLength="34.6" lengthAdjust="spacingAndGlyphs" >Control</text>
<text x="542.4" y="702.6" font-size="10.8" font-weight="normal" fill="#000" textLength="118.8" lengthAdjust="spacingAndGlyphs">5-HT<tspan font-size="7.34" dy="-3.89">DR</tspan><tspan dy="3.89"> REV-ERBα cKO</tspan></text>
<line x1="97.7" y1="794.4" x2="97.7" y2="913.6" stroke="#38b8d6" stroke-width="1" stroke-dasharray="1.2,2.6"/>
<line x1="43.7" y1="793.9" x2="43.7" y2="914.1" stroke="#000" stroke-width="1.3" />
<line x1="43.7" y1="883.8" x2="207.6" y2="883.8" stroke="#000" stroke-width="1.3" />
<line x1="39.7" y1="913.6" x2="43.7" y2="913.6" stroke="#000" stroke-width="1.2" />
<text x="37.900000000000006" y="916.9" font-size="9" font-weight="bold" text-anchor="end" fill="#000" >-10</text>
<line x1="39.7" y1="883.8" x2="43.7" y2="883.8" stroke="#000" stroke-width="1.2" />
<text x="37.900000000000006" y="887.0999999999999" font-size="9" font-weight="bold" text-anchor="end" fill="#000" >0</text>
<line x1="39.7" y1="854.0" x2="43.7" y2="854.0" stroke="#000" stroke-width="1.2" />
<text x="37.900000000000006" y="857.3" font-size="9" font-weight="bold" text-anchor="end" fill="#000" >10</text>
<line x1="39.7" y1="824.2" x2="43.7" y2="824.2" stroke="#000" stroke-width="1.2" />
<text x="37.900000000000006" y="827.5" font-size="9" font-weight="bold" text-anchor="end" fill="#000" >20</text>
<line x1="39.7" y1="794.4" x2="43.7" y2="794.4" stroke="#000" stroke-width="1.2" />
<text x="37.900000000000006" y="797.6999999999999" font-size="9" font-weight="bold" text-anchor="end" fill="#000" >30</text>
<line x1="97.7" y1="883.8" x2="97.7" y2="887.3" stroke="#000" stroke-width="1.2" />
<text x="97.7" y="898.5" font-size="9" font-weight="bold" text-anchor="middle" fill="#000" >0</text>
<line x1="152.45" y1="883.8" x2="152.45" y2="887.3" stroke="#000" stroke-width="1.2" />
<text x="152.45" y="898.5" font-size="9" font-weight="bold" text-anchor="middle" fill="#000" >5</text>
<line x1="207.2" y1="883.8" x2="207.2" y2="887.3" stroke="#000" stroke-width="1.2" />
<text x="207.2" y="898.5" font-size="9" font-weight="bold" text-anchor="middle" fill="#000" >10</text>
<text x="108.1" y="789.7" font-size="13" font-weight="bold" text-anchor="middle" fill="#000" >CT00</text>
<text x="48" y="928.7" font-size="9.5" font-weight="bold" text-anchor="start" fill="#000" textLength="154.5" lengthAdjust="spacingAndGlyphs" >Time from investigation onset (s)</text>
<text transform="translate(19.4,854.2) rotate(-90)" font-size="10" text-anchor="middle"><tspan font-weight="normal">Δ</tspan><tspan font-weight="bold">F/F (%)</tspan></text>
<polyline points="43.0,878.9 43.3,880.7 43.7,878.3 44.1,880.0 44.5,887.6 44.9,883.0 45.3,884.7 45.7,879.9 46.1,875.8 46.5,870.8 46.9,873.4 47.3,877.1 47.6,876.2 48.0,875.8 48.4,884.2 48.8,883.6 49.2,885.2 49.6,879.7 50.0,879.2 50.4,878.3 50.8,876.0 51.2,876.5 51.6,883.2 51.9,884.3 52.3,880.5 52.7,882.2 53.1,884.1 53.5,879.9 53.9,878.0 54.3,880.7 54.7,882.2 55.1,878.6 55.5,881.1 55.9,884.1 56.2,880.6 56.6,876.4 57.0,883.0 57.4,884.7 57.8,881.0 58.2,881.3 58.6,879.1 59.0,878.6 59.4,871.8 59.8,882.3 60.2,880.5 60.5,884.1 60.9,890.1 61.3,889.6 61.7,888.3 62.1,882.9 62.5,883.5 62.9,886.2 63.3,887.8 63.7,885.0 64.1,882.2 64.5,886.2 64.9,884.2 65.2,883.2 65.6,884.2 66.0,884.9 66.4,885.2 66.8,886.4 67.2,888.0 67.6,886.4 68.0,886.0 68.4,886.2 68.8,889.1 69.2,883.7 69.5,884.2 69.9,873.2 70.3,868.8 70.7,875.9 71.1,871.8 71.5,880.5 71.9,887.7 72.3,888.6 72.7,887.4 73.1,885.0 73.5,877.5 73.8,883.8 74.2,883.9 74.6,880.5 75.0,881.4 75.4,877.1 75.8,877.1 76.2,874.6 76.6,875.2 77.0,878.2 77.4,879.7 77.8,885.3 78.1,883.8 78.5,882.9 78.9,883.6 79.3,884.6 79.7,884.8 80.1,879.4 80.5,881.4 80.9,881.2 81.3,880.4 81.7,886.7 82.1,886.1 82.4,885.5 82.8,893.0 83.2,887.4 83.6,887.8 84.0,885.5 84.4,881.1 84.8,882.5 85.2,883.6 85.6,882.2 86.0,877.4 86.4,881.8 86.8,883.9 87.1,881.6 87.5,881.3 87.9,875.6 88.3,876.1 88.7,875.4 89.1,875.9 89.5,880.1 89.9,874.6 90.3,872.7 90.7,872.4 91.1,874.2 91.4,868.4 91.8,864.1 92.2,862.3 92.6,864.5 93.0,868.6 93.4,869.4 93.8,872.3 94.2,871.2 94.6,863.3 95.0,868.3 95.4,863.6 95.7,868.5 96.1,867.4 96.5,873.1 96.9,870.7 97.3,874.5 97.7,871.3 98.1,869.8 98.5,865.0 98.9,860.1 99.3,863.5 99.7,861.6 100.0,862.7 100.4,863.4 100.8,861.4 101.2,862.1 101.6,855.4 102.0,854.7 102.4,848.7 102.8,847.9 103.2,845.3 103.6,845.0 104.0,845.1 104.3,841.3 104.7,836.2 105.1,840.8 105.5,840.5 105.9,839.3 106.3,840.2 106.7,838.3 107.1,832.3 107.5,829.9 107.9,844.2 108.3,842.9 108.7,837.7 109.0,836.3 109.4,830.6 109.8,832.8 110.2,829.5 110.6,830.7 111.0,836.3 111.4,833.0 111.8,832.3 112.2,828.2 112.6,831.0 113.0,828.1 113.3,833.0 113.7,832.7 114.1,829.5 114.5,831.3 114.9,830.3 115.3,827.0 115.7,824.9 116.1,826.6 116.5,828.4 116.9,827.1 117.3,829.1 117.6,828.7 118.0,826.0 118.4,834.6 118.8,833.1 119.2,831.9 119.6,828.9 120.0,826.9 120.4,824.0 120.8,819.0 121.2,821.5 121.6,830.2 121.9,831.1 122.3,825.3 122.7,826.4 123.1,830.7 123.5,828.5 123.9,827.4 124.3,821.6 124.7,822.8 125.1,823.9 125.5,820.9 125.9,821.5 126.2,830.1 126.6,824.6 127.0,823.3 127.4,818.3 127.8,818.6 128.2,824.0 128.6,826.0 129.0,822.8 129.4,819.0 129.8,817.8 130.2,821.4 130.6,820.5 130.9,818.2 131.3,818.2 131.7,821.2 132.1,821.5 132.5,824.8 132.9,821.4 133.3,820.9 133.7,822.1 134.1,811.7 134.5,815.4 134.9,815.8 135.2,814.2 135.6,813.4 136.0,815.8 136.4,817.9 136.8,814.1 137.2,812.5 137.6,811.3 138.0,817.3 138.4,817.9 138.8,815.1 139.2,812.3 139.5,811.6 139.9,809.2 140.3,814.9 140.7,809.1 141.1,811.8 141.5,810.7 141.9,814.9 142.3,813.8 142.7,817.9 143.1,820.5 143.5,817.3 143.8,822.0 144.2,821.9 144.6,821.7 145.0,820.0 145.4,821.4 145.8,816.5 146.2,814.4 146.6,820.6 147.0,823.4 147.4,821.5 147.8,817.3 148.1,813.2 148.5,814.4 148.9,818.8 149.3,818.0 149.7,824.1 150.1,820.9 150.5,819.0 150.9,816.6 151.3,821.1 151.7,816.1 152.1,815.7 152.4,821.1 152.8,824.5 153.2,825.6 153.6,827.5 154.0,818.2 154.4,818.5 154.8,824.4 155.2,830.0 155.6,832.8 156.0,829.9 156.4,833.6 156.8,829.3 157.1,825.5 157.5,824.4 157.9,825.2 158.3,829.4 158.7,831.8 159.1,830.7 159.5,829.5 159.9,830.9 160.3,830.5 160.7,828.9 161.1,826.3 161.4,826.6 161.8,826.5 162.2,829.3 162.6,834.4 163.0,837.0 163.4,835.0 163.8,835.1 164.2,829.0 164.6,830.5 165.0,831.6 165.4,827.5 165.7,836.7 166.1,844.3 166.5,846.1 166.9,838.7 167.3,837.2 167.7,836.0 168.1,840.2 168.5,838.2 168.9,842.3 169.3,842.5 169.7,839.3 170.0,837.7 170.4,845.9 170.8,843.9 171.2,846.7 171.6,846.6 172.0,844.0 172.4,838.3 172.8,839.7 173.2,842.4 173.6,844.3 174.0,838.8 174.3,841.4 174.7,841.7 175.1,842.3 175.5,834.9 175.9,842.6 176.3,848.1 176.7,855.0 177.1,861.4 177.5,863.6 177.9,867.8 178.3,870.7 178.7,867.5 179.0,859.9 179.4,866.7 179.8,865.1 180.2,861.8 180.6,861.1 181.0,861.2 181.4,860.6 181.8,863.8 182.2,867.7 182.6,866.3 183.0,864.9 183.3,862.5 183.7,859.7 184.1,860.6 184.5,859.4 184.9,862.1 185.3,863.4 185.7,854.9 186.1,857.1 186.5,860.3 186.9,861.1 187.3,865.7 187.6,870.5 188.0,864.9 188.4,860.2 188.8,861.8 189.2,856.6 189.6,866.5 190.0,864.8 190.4,868.9 190.8,868.9 191.2,858.8 191.6,860.4 191.9,863.0 192.3,866.6 192.7,857.9 193.1,867.7 193.5,863.2 193.9,862.7 194.3,863.7 194.7,865.8 195.1,866.6 195.5,866.4 195.9,873.5 196.2,873.8 196.6,873.7 197.0,874.7 197.4,876.6 197.8,874.2 198.2,868.2 198.6,860.9 199.0,864.3 199.4,864.3 199.8,865.9 200.2,866.5 200.6,868.2 200.9,867.0 201.3,864.6 201.7,859.3 202.1,863.7 202.5,864.8 202.9,861.7 203.3,864.6 203.7,863.1 204.1,864.2 204.5,868.1 204.9,868.8 205.2,861.4 205.6,864.5 206.0,865.0 206.4,869.8 206.8,869.9 207.2,871.1" fill="none" stroke="#0000ff" stroke-width="1.5" stroke-linejoin="round"/>
<polyline points="43.0,884.3 43.3,879.0 43.7,881.4 44.1,883.5 44.5,882.2 44.9,887.1 45.3,886.7 45.7,886.6 46.1,885.2 46.5,887.7 46.9,885.9 47.3,889.0 47.6,887.4 48.0,891.0 48.4,890.9 48.8,885.7 49.2,880.8 49.6,884.4 50.0,884.5 50.4,886.1 50.8,889.5 51.2,892.1 51.6,890.1 51.9,888.0 52.3,887.6 52.7,890.7 53.1,887.2 53.5,887.7 53.9,884.7 54.3,884.2 54.7,883.6 55.1,888.4 55.5,886.3 55.9,885.5 56.2,884.7 56.6,884.3 57.0,885.4 57.4,889.3 57.8,890.5 58.2,889.9 58.6,896.8 59.0,893.8 59.4,893.1 59.8,889.6 60.2,890.8 60.5,894.4 60.9,888.0 61.3,886.6 61.7,889.9 62.1,890.9 62.5,893.1 62.9,890.9 63.3,888.1 63.7,889.3 64.1,887.4 64.5,886.1 64.9,888.3 65.2,888.2 65.6,890.6 66.0,888.3 66.4,890.8 66.8,887.5 67.2,890.1 67.6,888.9 68.0,887.2 68.4,889.1 68.8,882.3 69.2,883.0 69.5,885.9 69.9,883.9 70.3,882.2 70.7,881.5 71.1,882.9 71.5,885.0 71.9,885.8 72.3,885.9 72.7,886.5 73.1,884.2 73.5,884.0 73.8,888.5 74.2,887.1 74.6,884.1 75.0,882.0 75.4,884.6 75.8,878.4 76.2,878.1 76.6,880.2 77.0,886.7 77.4,882.5 77.8,878.9 78.1,881.5 78.5,880.3 78.9,881.2 79.3,887.8 79.7,888.8 80.1,884.0 80.5,886.2 80.9,884.7 81.3,884.4 81.7,885.2 82.1,884.6 82.4,885.0 82.8,884.1 83.2,886.2 83.6,885.6 84.0,885.1 84.4,888.7 84.8,888.6 85.2,885.8 85.6,886.6 86.0,885.4 86.4,884.0 86.8,881.5 87.1,879.8 87.5,880.8 87.9,880.5 88.3,880.9 88.7,881.2 89.1,880.1 89.5,877.8 89.9,882.4 90.3,884.3 90.7,884.8 91.1,879.6 91.4,880.3 91.8,877.0 92.2,881.7 92.6,884.6 93.0,884.3 93.4,883.5 93.8,883.5 94.2,885.0 94.6,879.9 95.0,879.5 95.4,879.0 95.7,877.0 96.1,882.5 96.5,878.0 96.9,876.4 97.3,873.9 97.7,874.2 98.1,876.4 98.5,869.2 98.9,870.3 99.3,869.3 99.7,871.1 100.0,871.6 100.4,869.4 100.8,865.6 101.2,863.2 101.6,859.0 102.0,858.6 102.4,853.4 102.8,852.4 103.2,850.5 103.6,847.0 104.0,843.6 104.3,841.7 104.7,844.9 105.1,844.5 105.5,844.7 105.9,845.6 106.3,840.9 106.7,846.2 107.1,845.4 107.5,841.1 107.9,844.4 108.3,844.4 108.7,844.9 109.0,842.0 109.4,843.4 109.8,842.0 110.2,845.1 110.6,846.2 111.0,840.8 111.4,844.4 111.8,840.7 112.2,838.8 112.6,839.4 113.0,837.6 113.3,842.9 113.7,838.3 114.1,843.6 114.5,839.5 114.9,839.5 115.3,841.4 115.7,840.8 116.1,841.5 116.5,840.2 116.9,838.6 117.3,839.9 117.6,840.7 118.0,845.8 118.4,845.1 118.8,837.4 119.2,837.0 119.6,840.6 120.0,839.6 120.4,841.5 120.8,839.3 121.2,844.0 121.6,839.8 121.9,834.6 122.3,837.9 122.7,837.4 123.1,839.2 123.5,833.2 123.9,833.9 124.3,838.4 124.7,837.6 125.1,838.4 125.5,840.3 125.9,842.8 126.2,840.3 126.6,839.6 127.0,839.8 127.4,833.1 127.8,835.2 128.2,834.4 128.6,840.1 129.0,838.0 129.4,841.8 129.8,838.5 130.2,839.5 130.6,843.0 130.9,840.7 131.3,842.8 131.7,844.9 132.1,842.4 132.5,843.2 132.9,841.4 133.3,839.8 133.7,846.2 134.1,851.8 134.5,850.4 134.9,847.0 135.2,844.5 135.6,842.6 136.0,842.9 136.4,846.3 136.8,848.7 137.2,846.6 137.6,841.0 138.0,844.8 138.4,840.1 138.8,839.4 139.2,840.9 139.5,845.5 139.9,839.9 140.3,846.0 140.7,843.7 141.1,845.3 141.5,845.7 141.9,848.0 142.3,847.3 142.7,845.4 143.1,847.1 143.5,848.1 143.8,849.5 144.2,847.7 144.6,848.2 145.0,845.1 145.4,851.1 145.8,846.9 146.2,846.7 146.6,851.4 147.0,855.7 147.4,852.5 147.8,855.8 148.1,853.0 148.5,847.0 148.9,851.8 149.3,849.3 149.7,844.9 150.1,840.3 150.5,843.4 150.9,844.1 151.3,845.4 151.7,848.0 152.1,845.1 152.4,846.9 152.8,846.9 153.2,848.7 153.6,850.9 154.0,847.4 154.4,847.6 154.8,847.9 155.2,850.4 155.6,851.5 156.0,846.7 156.4,848.2 156.8,847.4 157.1,849.2 157.5,847.9 157.9,851.5 158.3,851.4 158.7,849.5 159.1,853.2 159.5,854.7 159.9,854.9 160.3,856.9 160.7,855.7 161.1,857.2 161.4,859.4 161.8,856.9 162.2,857.7 162.6,855.8 163.0,857.7 163.4,857.0 163.8,860.4 164.2,864.0 164.6,861.5 165.0,856.2 165.4,859.2 165.7,860.0 166.1,860.3 166.5,862.9 166.9,860.0 167.3,864.0 167.7,858.3 168.1,862.8 168.5,858.7 168.9,859.4 169.3,857.5 169.7,857.7 170.0,857.4 170.4,856.3 170.8,857.9 171.2,860.0 171.6,861.2 172.0,859.3 172.4,861.5 172.8,863.5 173.2,863.9 173.6,861.5 174.0,859.8 174.3,860.4 174.7,862.1 175.1,862.9 175.5,862.1 175.9,863.0 176.3,861.9 176.7,858.6 177.1,861.3 177.5,860.3 177.9,861.1 178.3,860.2 178.7,863.4 179.0,861.3 179.4,863.5 179.8,864.1 180.2,863.4 180.6,864.8 181.0,868.3 181.4,876.9 181.8,868.5 182.2,861.6 182.6,867.2 183.0,866.2 183.3,867.5 183.7,868.4 184.1,866.5 184.5,871.8 184.9,870.6 185.3,870.0 185.7,871.2 186.1,872.8 186.5,869.7 186.9,872.0 187.3,869.2 187.6,871.2 188.0,870.2 188.4,871.5 188.8,870.2 189.2,867.2 189.6,872.6 190.0,870.5 190.4,869.9 190.8,868.1 191.2,866.6 191.6,869.4 191.9,869.0 192.3,869.4 192.7,868.6 193.1,871.0 193.5,873.1 193.9,871.1 194.3,872.5 194.7,870.3 195.1,872.9 195.5,877.3 195.9,872.2 196.2,870.1 196.6,872.8 197.0,872.9 197.4,873.6 197.8,872.8 198.2,870.9 198.6,874.4 199.0,877.8 199.4,872.3 199.8,873.0 200.2,869.8 200.6,872.2 200.9,873.2 201.3,876.5 201.7,878.9 202.1,876.2 202.5,875.4 202.9,873.2 203.3,874.0 203.7,871.4 204.1,873.8 204.5,868.7 204.9,866.3 205.2,873.9 205.6,871.3 206.0,864.0 206.4,866.2 206.8,870.9 207.2,869.9" fill="none" stroke="#000" stroke-width="1.7" stroke-linejoin="round"/>
<line x1="314.4" y1="794.7" x2="314.4" y2="913.9" stroke="#38b8d6" stroke-width="1" stroke-dasharray="1.2,2.6"/>
<line x1="260.3" y1="794.2" x2="260.3" y2="914.4" stroke="#000" stroke-width="1.3" />
<line x1="260.3" y1="890.06" x2="423.59999999999997" y2="890.06" stroke="#000" stroke-width="1.3" />
<line x1="256.3" y1="913.9" x2="260.3" y2="913.9" stroke="#000" stroke-width="1.2" />
<text x="254.5" y="917.1999999999999" font-size="9" font-weight="bold" text-anchor="end" fill="#000" >-10</text>
<line x1="256.3" y1="890.06" x2="260.3" y2="890.06" stroke="#000" stroke-width="1.2" />
<text x="254.5" y="893.3599999999999" font-size="9" font-weight="bold" text-anchor="end" fill="#000" >0</text>
<line x1="256.3" y1="866.22" x2="260.3" y2="866.22" stroke="#000" stroke-width="1.2" />
<text x="254.5" y="869.52" font-size="9" font-weight="bold" text-anchor="end" fill="#000" >10</text>
<line x1="256.3" y1="842.38" x2="260.3" y2="842.38" stroke="#000" stroke-width="1.2" />
<text x="254.5" y="845.68" font-size="9" font-weight="bold" text-anchor="end" fill="#000" >20</text>
<line x1="256.3" y1="818.5400000000001" x2="260.3" y2="818.5400000000001" stroke="#000" stroke-width="1.2" />
<text x="254.5" y="821.84" font-size="9" font-weight="bold" text-anchor="end" fill="#000" >30</text>
<line x1="256.3" y1="794.7" x2="260.3" y2="794.7" stroke="#000" stroke-width="1.2" />
<text x="254.5" y="798.0" font-size="9" font-weight="bold" text-anchor="end" fill="#000" >40</text>
<line x1="314.4" y1="890.06" x2="314.4" y2="893.56" stroke="#000" stroke-width="1.2" />
<text x="314.4" y="905.1" font-size="9" font-weight="bold" text-anchor="middle" fill="#000" >0</text>
<line x1="368.79999999999995" y1="890.06" x2="368.79999999999995" y2="893.56" stroke="#000" stroke-width="1.2" />
<text x="368.79999999999995" y="905.1" font-size="9" font-weight="bold" text-anchor="middle" fill="#000" >5</text>
<line x1="423.2" y1="890.06" x2="423.2" y2="893.56" stroke="#000" stroke-width="1.2" />
<text x="423.2" y="905.1" font-size="9" font-weight="bold" text-anchor="middle" fill="#000" >10</text>
<text x="339.2" y="789.3" font-size="13" font-weight="bold" text-anchor="middle" fill="#000" >CT12</text>
<text x="264.7" y="936.4" font-size="9.5" font-weight="bold" text-anchor="start" fill="#000" textLength="154.1" lengthAdjust="spacingAndGlyphs" >Time from investigation onset (s)</text>
<text transform="translate(237.6,854.1) rotate(-90)" font-size="10" text-anchor="middle"><tspan font-weight="normal">Δ</tspan><tspan font-weight="bold">F/F (%)</tspan></text>
<polyline points="260.0,891.7 260.4,892.7 260.8,890.2 261.2,887.5 261.6,892.2 261.9,886.5 262.3,887.5 262.7,894.7 263.1,897.7 263.5,892.4 263.9,896.8 264.3,896.7 264.7,896.0 265.1,891.0 265.4,894.0 265.8,892.1 266.2,894.2 266.6,891.5 267.0,890.8 267.4,890.2 267.8,892.6 268.2,888.5 268.5,892.6 268.9,896.4 269.3,895.3 269.7,899.0 270.1,893.9 270.5,891.6 270.9,892.7 271.3,893.3 271.7,889.8 272.0,894.0 272.4,893.8 272.8,892.5 273.2,891.8 273.6,891.5 274.0,891.8 274.4,889.8 274.8,889.0 275.2,887.8 275.5,888.2 275.9,893.9 276.3,897.2 276.7,899.5 277.1,896.7 277.5,894.5 277.9,892.0 278.3,891.1 278.7,894.5 279.0,890.7 279.4,889.6 279.8,891.1 280.2,895.2 280.6,893.2 281.0,894.5 281.4,892.6 281.8,890.0 282.1,885.9 282.5,886.8 282.9,890.0 283.3,890.9 283.7,887.8 284.1,892.8 284.5,890.0 284.9,888.0 285.3,888.3 285.6,888.3 286.0,892.8 286.4,887.3 286.8,887.1 287.2,889.0 287.6,891.1 288.0,892.0 288.4,894.3 288.8,891.1 289.1,885.3 289.5,884.3 289.9,893.1 290.3,896.4 290.7,889.4 291.1,891.9 291.5,893.2 291.9,890.5 292.3,889.8 292.6,890.9 293.0,890.4 293.4,888.6 293.8,892.4 294.2,889.9 294.6,886.1 295.0,889.9 295.4,890.4 295.7,885.3 296.1,882.5 296.5,881.1 296.9,886.3 297.3,886.6 297.7,888.0 298.1,890.9 298.5,895.8 298.9,893.8 299.2,895.6 299.6,891.8 300.0,897.9 300.4,896.9 300.8,892.4 301.2,894.4 301.6,891.8 302.0,886.9 302.4,883.9 302.7,883.9 303.1,878.6 303.5,879.7 303.9,875.2 304.3,877.2 304.7,879.4 305.1,880.0 305.5,874.8 305.9,872.1 306.2,872.1 306.6,873.8 307.0,872.9 307.4,871.9 307.8,873.7 308.2,869.6 308.6,871.6 309.0,874.8 309.3,872.4 309.7,871.5 310.1,870.6 310.5,872.3 310.9,871.6 311.3,877.0 311.7,875.5 312.1,872.8 312.5,874.2 312.8,873.6 313.2,874.3 313.6,870.1 314.0,869.5 314.4,869.4 314.8,869.7 315.2,865.0 315.6,867.7 316.0,873.1 316.3,873.1 316.7,871.0 317.1,866.1 317.5,864.6 317.9,859.6 318.3,854.0 318.7,855.0 319.1,853.9 319.5,851.2 319.8,850.4 320.2,853.4 320.6,851.8 321.0,848.6 321.4,848.9 321.8,846.1 322.2,843.1 322.6,846.8 322.9,842.3 323.3,847.5 323.7,849.6 324.1,844.9 324.5,845.4 324.9,846.7 325.3,845.5 325.7,847.1 326.1,844.7 326.4,844.2 326.8,842.0 327.2,837.3 327.6,841.2 328.0,838.4 328.4,838.1 328.8,837.1 329.2,834.3 329.6,834.3 329.9,842.5 330.3,836.7 330.7,838.8 331.1,838.3 331.5,840.3 331.9,839.3 332.3,848.2 332.7,846.3 333.1,845.5 333.4,842.9 333.8,842.9 334.2,838.8 334.6,839.3 335.0,841.0 335.4,840.2 335.8,837.2 336.2,837.2 336.5,837.5 336.9,842.7 337.3,842.8 337.7,844.8 338.1,845.9 338.5,844.5 338.9,843.9 339.3,839.5 339.7,845.5 340.0,836.1 340.4,836.0 340.8,836.0 341.2,837.0 341.6,838.3 342.0,839.6 342.4,840.7 342.8,833.3 343.2,834.7 343.5,838.7 343.9,837.8 344.3,839.0 344.7,836.9 345.1,831.6 345.5,834.0 345.9,835.9 346.3,835.3 346.7,841.3 347.0,839.9 347.4,835.6 347.8,835.2 348.2,835.9 348.6,832.8 349.0,831.5 349.4,830.7 349.8,831.4 350.1,834.0 350.5,833.9 350.9,835.1 351.3,836.7 351.7,834.8 352.1,834.2 352.5,835.0 352.9,840.6 353.3,837.9 353.6,836.2 354.0,836.8 354.4,837.4 354.8,834.6 355.2,831.5 355.6,839.5 356.0,838.3 356.4,833.5 356.8,831.4 357.1,834.0 357.5,836.0 357.9,833.0 358.3,835.4 358.7,833.2 359.1,833.5 359.5,835.6 359.9,833.4 360.3,836.4 360.6,838.0 361.0,837.4 361.4,836.9 361.8,840.3 362.2,838.9 362.6,838.7 363.0,836.5 363.4,835.4 363.7,840.0 364.1,836.2 364.5,837.8 364.9,837.3 365.3,837.9 365.7,839.7 366.1,833.6 366.5,834.7 366.9,836.9 367.2,833.3 367.6,834.1 368.0,838.6 368.4,830.4 368.8,834.0 369.2,835.4 369.6,839.3 370.0,835.0 370.4,832.5 370.7,833.6 371.1,834.8 371.5,841.8 371.9,841.8 372.3,840.5 372.7,839.5 373.1,837.1 373.5,841.7 373.9,845.2 374.2,845.1 374.6,842.3 375.0,842.7 375.4,843.6 375.8,850.5 376.2,843.9 376.6,844.3 377.0,838.7 377.3,842.0 377.7,842.8 378.1,841.4 378.5,839.5 378.9,846.5 379.3,848.3 379.7,853.6 380.1,854.3 380.5,851.5 380.8,850.2 381.2,855.5 381.6,858.5 382.0,855.4 382.4,848.7 382.8,853.7 383.2,818.5 383.6,818.5 384.0,851.3 384.3,846.9 384.7,850.7 385.1,856.3 385.5,859.6 385.9,860.2 386.3,860.0 386.7,858.3 387.1,859.6 387.5,859.3 387.8,861.4 388.2,860.1 388.6,860.6 389.0,860.8 389.4,856.4 389.8,857.8 390.2,857.8 390.6,857.3 390.9,855.4 391.3,860.4 391.7,860.1 392.1,868.5 392.5,866.5 392.9,868.1 393.3,874.3 393.7,879.9 394.1,881.7 394.4,879.1 394.8,875.2 395.2,874.0 395.6,876.9 396.0,875.5 396.4,873.7 396.8,871.1 397.2,870.1 397.6,874.5 397.9,874.4 398.3,876.7 398.7,875.8 399.1,881.0 399.5,878.1 399.9,876.0 400.3,871.7 400.7,872.6 401.1,875.4 401.4,877.0 401.8,875.6 402.2,872.6 402.6,867.7 403.0,873.0 403.4,874.9 403.8,872.0 404.2,875.0 404.5,875.1 404.9,868.0 405.3,868.7 405.7,866.4 406.1,867.2 406.5,875.3 406.9,868.8 407.3,872.6 407.7,874.5 408.0,871.5 408.4,875.4 408.8,876.4 409.2,875.3 409.6,875.7 410.0,877.3 410.4,876.4 410.8,875.8 411.2,872.5 411.5,873.3 411.9,875.3 412.3,874.1 412.7,870.7 413.1,875.4 413.5,874.5 413.9,873.3 414.3,878.8 414.7,881.0 415.0,877.9 415.4,880.6 415.8,882.8 416.2,884.2 416.6,882.9 417.0,883.3 417.4,878.7 417.8,881.1 418.1,880.2 418.5,876.9 418.9,876.8 419.3,876.0 419.7,877.4 420.1,877.8 420.5,879.9 420.9,878.0 421.3,877.5 421.6,879.5 422.0,877.8 422.4,880.3 422.8,885.2 423.2,881.8" fill="none" stroke="#0000ff" stroke-width="1.5" stroke-linejoin="round"/>
<polyline points="260.0,885.6 260.4,882.8 260.8,885.0 261.2,889.7 261.6,889.0 261.9,885.0 262.3,886.3 262.7,883.4 263.1,880.0 263.5,886.9 263.9,880.9 264.3,884.0 264.7,882.1 265.1,881.8 265.4,879.7 265.8,881.7 266.2,880.2 266.6,878.8 267.0,878.8 267.4,880.6 267.8,882.0 268.2,881.3 268.5,880.7 268.9,882.1 269.3,882.9 269.7,882.7 270.1,883.2 270.5,883.8 270.9,882.0 271.3,883.6 271.7,885.3 272.0,883.9 272.4,886.8 272.8,887.8 273.2,887.8 273.6,889.3 274.0,890.8 274.4,889.8 274.8,889.6 275.2,891.7 275.5,891.7 275.9,886.4 276.3,887.9 276.7,890.6 277.1,891.2 277.5,892.6 277.9,889.8 278.3,889.2 278.7,889.3 279.0,889.5 279.4,887.6 279.8,887.8 280.2,888.3 280.6,888.4 281.0,882.3 281.4,885.8 281.8,886.2 282.1,890.9 282.5,886.2 282.9,889.0 283.3,889.4 283.7,888.0 284.1,890.4 284.5,887.8 284.9,885.6 285.3,889.1 285.6,887.0 286.0,886.4 286.4,887.7 286.8,886.2 287.2,888.2 287.6,883.8 288.0,887.0 288.4,886.2 288.8,882.7 289.1,882.8 289.5,887.8 289.9,888.0 290.3,888.2 290.7,886.2 291.1,883.1 291.5,883.5 291.9,881.7 292.3,877.5 292.6,878.0 293.0,876.9 293.4,873.1 293.8,876.5 294.2,878.2 294.6,880.5 295.0,881.4 295.4,881.1 295.7,883.6 296.1,883.0 296.5,886.2 296.9,884.5 297.3,884.8 297.7,884.5 298.1,885.5 298.5,886.9 298.9,886.1 299.2,887.1 299.6,885.4 300.0,885.5 300.4,889.4 300.8,886.7 301.2,884.4 301.6,887.9 302.0,887.8 302.4,890.9 302.7,886.5 303.1,882.0 303.5,882.2 303.9,883.5 304.3,887.1 304.7,888.2 305.1,882.1 305.5,887.1 305.9,886.1 306.2,881.8 306.6,883.3 307.0,881.7 307.4,881.2 307.8,883.0 308.2,884.7 308.6,880.5 309.0,883.2 309.3,884.3 309.7,880.9 310.1,887.1 310.5,885.9 310.9,881.3 311.3,876.9 311.7,876.6 312.1,874.8 312.5,875.2 312.8,876.5 313.2,875.2 313.6,878.1 314.0,880.5 314.4,878.1 314.8,876.0 315.2,869.3 315.6,872.1 316.0,871.5 316.3,866.2 316.7,860.9 317.1,863.1 317.5,866.0 317.9,865.0 318.3,864.2 318.7,861.3 319.1,857.9 319.5,854.3 319.8,852.1 320.2,852.8 320.6,853.7 321.0,849.2 321.4,854.0 321.8,855.4 322.2,854.5 322.6,853.4 322.9,850.8 323.3,850.6 323.7,853.3 324.1,853.5 324.5,854.2 324.9,852.7 325.3,851.9 325.7,851.2 326.1,851.0 326.4,848.9 326.8,851.4 327.2,849.5 327.6,850.4 328.0,851.1 328.4,852.3 328.8,854.6 329.2,856.7 329.6,853.4 329.9,852.5 330.3,848.5 330.7,851.7 331.1,848.9 331.5,849.9 331.9,850.5 332.3,852.1 332.7,853.8 333.1,852.6 333.4,853.1 333.8,851.1 334.2,852.6 334.6,850.8 335.0,851.5 335.4,855.3 335.8,855.2 336.2,850.6 336.5,852.6 336.9,850.3 337.3,850.9 337.7,851.9 338.1,851.8 338.5,851.3 338.9,851.1 339.3,855.6 339.7,853.1 340.0,851.8 340.4,848.2 340.8,851.1 341.2,852.5 341.6,854.9 342.0,856.3 342.4,854.0 342.8,852.1 343.2,849.8 343.5,851.4 343.9,851.3 344.3,853.1 344.7,853.7 345.1,852.9 345.5,851.5 345.9,854.3 346.3,852.9 346.7,851.1 347.0,853.3 347.4,855.9 347.8,858.8 348.2,856.0 348.6,856.4 349.0,855.0 349.4,854.0 349.8,853.9 350.1,854.9 350.5,856.2 350.9,853.5 351.3,853.9 351.7,857.1 352.1,858.6 352.5,856.6 352.9,860.0 353.3,860.3 353.6,859.5 354.0,858.3 354.4,858.7 354.8,860.6 355.2,857.3 355.6,859.5 356.0,857.9 356.4,860.1 356.8,858.7 357.1,857.9 357.5,860.0 357.9,860.3 358.3,859.4 358.7,861.6 359.1,863.0 359.5,861.0 359.9,860.3 360.3,860.4 360.6,863.3 361.0,863.0 361.4,861.4 361.8,861.4 362.2,862.7 362.6,861.5 363.0,861.1 363.4,863.0 363.7,862.3 364.1,861.7 364.5,860.6 364.9,859.4 365.3,859.3 365.7,860.7 366.1,863.3 366.5,860.7 366.9,863.4 367.2,864.0 367.6,864.0 368.0,865.5 368.4,863.5 368.8,861.8 369.2,861.0 369.6,860.3 370.0,860.0 370.4,857.1 370.7,860.3 371.1,861.2 371.5,862.6 371.9,859.5 372.3,861.5 372.7,863.3 373.1,862.2 373.5,855.6 373.9,857.4 374.2,857.2 374.6,859.0 375.0,862.0 375.4,864.2 375.8,862.3 376.2,863.4 376.6,863.6 377.0,863.3 377.3,862.7 377.7,862.4 378.1,864.8 378.5,864.5 378.9,865.9 379.3,866.0 379.7,867.7 380.1,867.1 380.5,867.0 380.8,865.4 381.2,870.0 381.6,870.7 382.0,870.9 382.4,868.1 382.8,869.2 383.2,868.2 383.6,866.5 384.0,869.8 384.3,867.7 384.7,864.4 385.1,867.9 385.5,865.0 385.9,862.6 386.3,865.3 386.7,869.5 387.1,868.8 387.5,870.9 387.8,869.1 388.2,865.7 388.6,868.8 389.0,869.3 389.4,872.9 389.8,873.0 390.2,873.5 390.6,871.8 390.9,870.5 391.3,870.7 391.7,869.5 392.1,870.1 392.5,869.9 392.9,871.9 393.3,872.1 393.7,870.3 394.1,866.0 394.4,867.4 394.8,871.0 395.2,872.8 395.6,872.5 396.0,874.5 396.4,869.9 396.8,869.0 397.2,871.6 397.6,874.9 397.9,869.3 398.3,872.3 398.7,871.8 399.1,874.8 399.5,875.4 399.9,874.0 400.3,875.7 400.7,875.2 401.1,871.8 401.4,877.7 401.8,876.7 402.2,876.7 402.6,873.4 403.0,870.1 403.4,875.0 403.8,874.5 404.2,870.8 404.5,870.1 404.9,875.4 405.3,874.8 405.7,871.7 406.1,870.9 406.5,874.2 406.9,875.0 407.3,876.0 407.7,876.6 408.0,874.3 408.4,873.5 408.8,875.1 409.2,877.0 409.6,875.7 410.0,873.9 410.4,876.4 410.8,877.8 411.2,878.2 411.5,875.7 411.9,875.0 412.3,876.0 412.7,876.9 413.1,877.6 413.5,878.2 413.9,879.0 414.3,878.2 414.7,877.9 415.0,878.6 415.4,878.3 415.8,881.4 416.2,879.3 416.6,877.8 417.0,878.1 417.4,876.9 417.8,877.0 418.1,875.0 418.5,872.6 418.9,872.1 419.3,870.7 419.7,870.1 420.1,873.0 420.5,873.9 420.9,874.6 421.3,874.9 421.6,872.2 422.0,874.0 422.4,878.2 422.8,874.7 423.2,877.6" fill="none" stroke="#000" stroke-width="1.7" stroke-linejoin="round"/>
<line x1="378.8" y1="792" x2="393" y2="792" stroke="#000" stroke-width="1.8" />
<line x1="378.8" y1="807.1" x2="393" y2="807.1" stroke="#0000ff" stroke-width="1.8" />
<text x="399.7" y="794.8" font-size="10" font-weight="normal" text-anchor="start" fill="#000" >control</text>
<text x="399.7" y="810.2" font-size="10" font-weight="normal" text-anchor="start" fill="#000" textLength="69.6" lengthAdjust="spacingAndGlyphs" >REV-ERBa cKO</text>
<rect x="535.2" y="755.6" width="23.3" height="11.4" fill="#fff" stroke="#000" stroke-width="1.2"/>
<rect x="535.2" y="779.2" width="23.3" height="11.4" fill="#3063ff" stroke="#000" stroke-width="1.2"/>
<text x="568.8" y="763.6" font-size="10.4" font-weight="bold" text-anchor="start" fill="#000" textLength="73.2" lengthAdjust="spacingAndGlyphs" >Control mouse</text>
<text x="568.8" y="786.8" font-size="10.4" font-weight="bold" textLength="116.5" lengthAdjust="spacingAndGlyphs">5-HT<tspan font-size="6.2" dy="-3.4">DR</tspan><tspan dy="3.4"> REV-ERBα cKO</tspan></text>
<rect x="513.3" y="879.5" width="19.700000000000045" height="44.0" fill="#fff" stroke="#000" stroke-width="1.3"/>
<rect x="544.8" y="856.6" width="19.700000000000045" height="66.89999999999998" fill="#5555f5" stroke="#000" stroke-width="1.3"/>
<rect x="597.4" y="874.1" width="19.600000000000023" height="49.39999999999998" fill="#fff" stroke="#000" stroke-width="1.3"/>
<rect x="629.6" y="853.7" width="19.600000000000023" height="69.79999999999995" fill="#5555f5" stroke="#000" stroke-width="1.3"/>
<line x1="502.6" y1="817.5" x2="502.6" y2="924.1" stroke="#000" stroke-width="1.3" />
<line x1="502.0" y1="923.5" x2="661" y2="923.5" stroke="#000" stroke-width="1.3" />
<line x1="498.6" y1="923.5" x2="502.6" y2="923.5" stroke="#000" stroke-width="1.1" />
<text x="497.8" y="926.4" font-size="8" font-weight="bold" text-anchor="end" fill="#000" >0</text>
<line x1="498.6" y1="902.4" x2="502.6" y2="902.4" stroke="#000" stroke-width="1.1" />
<text x="497.8" y="905.3" font-size="8" font-weight="bold" text-anchor="end" fill="#000" >50</text>
<line x1="498.6" y1="881.3" x2="502.6" y2="881.3" stroke="#000" stroke-width="1.1" />
<text x="497.8" y="884.1999999999999" font-size="8" font-weight="bold" text-anchor="end" fill="#000" >100</text>
<line x1="498.6" y1="860.2" x2="502.6" y2="860.2" stroke="#000" stroke-width="1.1" />
<text x="497.8" y="863.1" font-size="8" font-weight="bold" text-anchor="end" fill="#000" >150</text>
<line x1="498.6" y1="839.1" x2="502.6" y2="839.1" stroke="#000" stroke-width="1.1" />
<text x="497.8" y="842.0" font-size="8" font-weight="bold" text-anchor="end" fill="#000" >200</text>
<line x1="498.6" y1="818.0" x2="502.6" y2="818.0" stroke="#000" stroke-width="1.1" />
<text x="497.8" y="820.9" font-size="8" font-weight="bold" text-anchor="end" fill="#000" >250</text>
<line x1="538.4" y1="923.5" x2="538.4" y2="927.8" stroke="#000" stroke-width="1.2" />
<line x1="623.5" y1="923.5" x2="623.5" y2="927.8" stroke="#000" stroke-width="1.2" />
<text x="535.9" y="943.1" font-size="13" font-weight="bold" text-anchor="middle" fill="#000" textLength="36" lengthAdjust="spacingAndGlyphs" >CT 00</text>
<text x="626" y="943.1" font-size="13" font-weight="bold" text-anchor="middle" fill="#000" textLength="36" lengthAdjust="spacingAndGlyphs" >CT 12</text>
<text transform="translate(477,871.1) rotate(-90)" font-size="8.6" font-weight="bold" text-anchor="middle" textLength="113.3" lengthAdjust="spacingAndGlyphs">Area under the curve (AUC)</text>
<line x1="523.3" y1="866.2" x2="554.4" y2="867.3" stroke="#000" stroke-width="1.25" />
<line x1="523.3" y1="873.4" x2="554.4" y2="844.1" stroke="#000" stroke-width="1.25" />
<line x1="523.3" y1="878" x2="554.4" y2="846.6" stroke="#000" stroke-width="1.25" />
<line x1="523.3" y1="878.5" x2="554.4" y2="854.8" stroke="#000" stroke-width="1.25" />
<line x1="523.3" y1="886.6" x2="554.4" y2="856.2" stroke="#000" stroke-width="1.25" />
<line x1="523.3" y1="889.5" x2="554.4" y2="868.7" stroke="#000" stroke-width="1.25" />
<line x1="607.4" y1="865.2" x2="639.2" y2="866.2" stroke="#000" stroke-width="1.25" />
<line x1="607.4" y1="867.3" x2="639.2" y2="864.4" stroke="#000" stroke-width="1.25" />
<line x1="607.4" y1="875.2" x2="639.2" y2="854.8" stroke="#000" stroke-width="1.25" />
<line x1="607.4" y1="877.7" x2="639.2" y2="833" stroke="#000" stroke-width="1.25" />
<line x1="607.4" y1="880.5" x2="639.2" y2="845.5" stroke="#000" stroke-width="1.25" />
<line x1="607.4" y1="880" x2="639.2" y2="865" stroke="#000" stroke-width="1.25" />
<circle cx="523.3" cy="866.2" r="2.1" fill="#000"/>
<circle cx="523.3" cy="873.4" r="2.1" fill="#000"/>
<circle cx="523.3" cy="878" r="2.1" fill="#000"/>
<circle cx="523.3" cy="878.5" r="2.1" fill="#000"/>
<circle cx="523.3" cy="886.6" r="2.1" fill="#000"/>
<circle cx="523.3" cy="889.5" r="2.1" fill="#000"/>
<circle cx="554.4" cy="867.3" r="2.1" fill="#000"/>
<circle cx="554.4" cy="844.1" r="2.1" fill="#000"/>
<circle cx="554.4" cy="846.6" r="2.1" fill="#000"/>
<circle cx="554.4" cy="854.8" r="2.1" fill="#000"/>
<circle cx="554.4" cy="856.2" r="2.1" fill="#000"/>
<circle cx="554.4" cy="868.7" r="2.1" fill="#000"/>
<circle cx="607.4" cy="865.2" r="2.1" fill="#000"/>
<circle cx="607.4" cy="867.3" r="2.1" fill="#000"/>
<circle cx="607.4" cy="875.2" r="2.1" fill="#000"/>
<circle cx="607.4" cy="877.7" r="2.1" fill="#000"/>
<circle cx="607.4" cy="880.5" r="2.1" fill="#000"/>
<circle cx="607.4" cy="880" r="2.1" fill="#000"/>
<circle cx="639.2" cy="866.2" r="2.1" fill="#000"/>
<circle cx="639.2" cy="864.4" r="2.1" fill="#000"/>
<circle cx="639.2" cy="854.8" r="2.1" fill="#000"/>
<circle cx="639.2" cy="833" r="2.1" fill="#000"/>
<circle cx="639.2" cy="845.5" r="2.1" fill="#000"/>
<circle cx="639.2" cy="865" r="2.1" fill="#000"/>
<line x1="524" y1="818.3" x2="554.4" y2="818.3" stroke="#000" stroke-width="1.5" />
<line x1="524" y1="813.9" x2="524" y2="823.0999999999999" stroke="#000" stroke-width="1.5" />
<line x1="554.4" y1="813.9" x2="554.4" y2="823.0999999999999" stroke="#000" stroke-width="1.5" />
<text x="539.9000000000001" y="819.6" font-size="13" font-weight="normal" text-anchor="middle" fill="#000" letter-spacing="1.4">**</text>
<line x1="606.3" y1="816.8" x2="636.7" y2="816.8" stroke="#000" stroke-width="1.5" />
<line x1="606.3" y1="812.4" x2="606.3" y2="821.5999999999999" stroke="#000" stroke-width="1.5" />
<line x1="636.7" y1="812.4" x2="636.7" y2="821.5999999999999" stroke="#000" stroke-width="1.5" />
<text x="622.2" y="818.2" font-size="13" font-weight="normal" text-anchor="middle" fill="#000" letter-spacing="1.4">**</text>
<text x="5.8" y="21.1" font-size="24" font-weight="bold" text-anchor="start" fill="#000" >a</text>
<text x="0.1" y="174" font-size="24" font-weight="bold" text-anchor="start" fill="#000" >b</text>
<text x="306.5" y="173.8" font-size="24" font-weight="bold" text-anchor="start" fill="#000" >c</text>
<text x="0" y="359.4" font-size="24" font-weight="bold" text-anchor="start" fill="#000" >d</text>
<text x="474.3" y="358.8" font-size="24" font-weight="bold" text-anchor="start" fill="#000" >e</text>
<text x="-0.1" y="571.5" font-size="24" font-weight="bold" text-anchor="start" fill="#000" >f</text>
<text x="307.8" y="571.3" font-size="24" font-weight="bold" text-anchor="start" fill="#000" >g</text>
<text x="0.4" y="773.9" font-size="24" font-weight="bold" text-anchor="start" fill="#000" >h</text>
<text x="474.7" y="768.2" font-size="24" font-weight="bold" text-anchor="start" fill="#000" >i</text>
</svg></body></html>
